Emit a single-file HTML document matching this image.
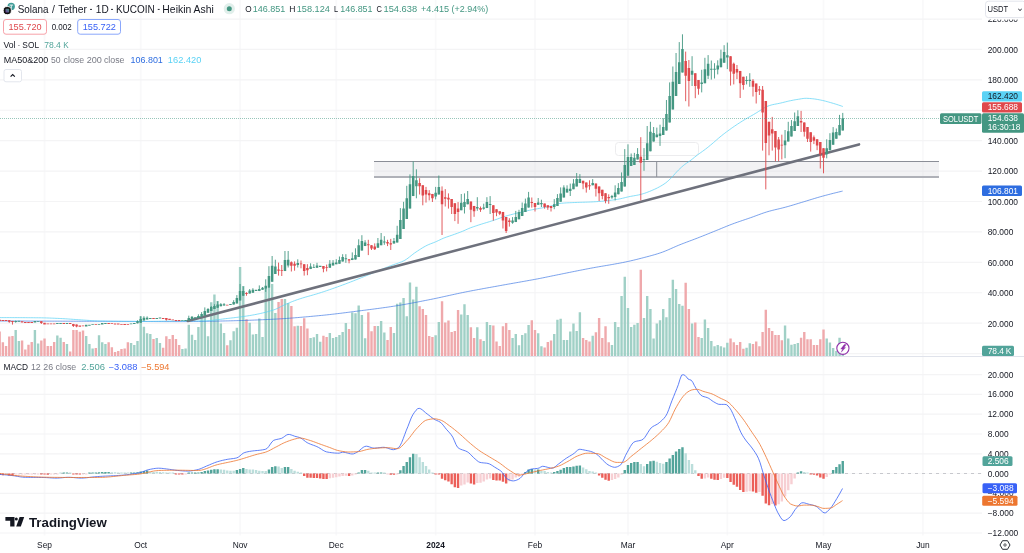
<!DOCTYPE html><html><head><meta charset="utf-8"><style>
html,body{margin:0;padding:0;width:1024px;height:553px;overflow:hidden;background:#fff}
svg{position:absolute;left:0;top:0;display:block;will-change:transform}
text{font-family:"Liberation Sans",sans-serif}
</style></head><body>
<svg width="1024" height="553" viewBox="0 0 1024 553">
<rect x="0" y="0" width="1024" height="553" fill="#fff"/>
<path d="M44.53 0V535.5 M140.70 0V535.5 M240.08 0V535.5 M336.25 0V535.5 M435.63 0V535.5 M535.00 0V535.5 M627.97 0V535.5 M727.34 0V535.5 M823.52 0V535.5 M922.89 0V535.5" stroke="#f9f9fa" stroke-width="1.8" fill="none"/>
<path d="M0 19.04H982 M0 49.45H982 M0 79.86H982 M0 110.27H982 M0 140.68H982 M0 171.09H982 M0 201.50H982 M0 231.91H982 M0 262.32H982 M0 292.73H982 M0 323.14H982 M0 353.55H982 M0 374.60H982 M0 394.40H982 M0 414.20H982 M0 434.00H982 M0 453.80H982 M0 493.40H982 M0 513.20H982 M0 533.00H982" stroke="#f4f4f5" stroke-width="1.2" fill="none"/>
<rect x="374" y="161.5" width="565" height="16" fill="#dcdce0" fill-opacity="0.36"/>
<path d="M374 161.5H939" stroke="#8b8e97" stroke-width="1.2"/>
<path d="M374 177H939" stroke="#afb1b8" stroke-width="1.8"/>
<path d="M656.7 161.5V177" stroke="#8b8e97" stroke-width="1"/>
<rect x="615.5" y="142.5" width="83" height="13" rx="3" fill="none" stroke="#ececee" stroke-width="1"/>
<path d="M14.48 330.0h2.4V356h-2.4ZM17.68 341.1h2.4V356h-2.4ZM33.71 330.0h2.4V356h-2.4ZM36.92 343.4h2.4V356h-2.4ZM56.15 335.4h2.4V356h-2.4ZM59.36 337.8h2.4V356h-2.4ZM65.77 344.0h2.4V356h-2.4ZM85.00 335.9h2.4V356h-2.4ZM88.21 344.0h2.4V356h-2.4ZM91.42 348.6h2.4V356h-2.4ZM97.83 335.2h2.4V356h-2.4ZM101.03 342.3h2.4V356h-2.4ZM104.24 344.1h2.4V356h-2.4ZM129.88 342.9h2.4V356h-2.4ZM133.09 345.1h2.4V356h-2.4ZM136.30 341.0h2.4V356h-2.4ZM139.50 316.3h2.4V356h-2.4ZM142.71 326.7h2.4V356h-2.4ZM145.91 333.3h2.4V356h-2.4ZM149.12 334.1h2.4V356h-2.4ZM155.53 338.0h2.4V356h-2.4ZM158.74 342.9h2.4V356h-2.4ZM181.18 349.0h2.4V356h-2.4ZM184.38 348.5h2.4V356h-2.4ZM187.59 324.8h2.4V356h-2.4ZM190.79 334.8h2.4V356h-2.4ZM194.00 340.0h2.4V356h-2.4ZM197.20 326.9h2.4V356h-2.4ZM200.41 317.6h2.4V356h-2.4ZM203.62 313.3h2.4V356h-2.4ZM206.82 336.3h2.4V356h-2.4ZM210.03 302.3h2.4V356h-2.4ZM213.23 294.6h2.4V356h-2.4ZM216.44 301.1h2.4V356h-2.4ZM219.64 323.5h2.4V356h-2.4ZM222.85 332.9h2.4V356h-2.4ZM229.26 340.2h2.4V356h-2.4ZM232.47 331.2h2.4V356h-2.4ZM235.67 327.8h2.4V356h-2.4ZM238.88 267.1h2.4V356h-2.4ZM242.08 286.1h2.4V356h-2.4ZM248.49 322.7h2.4V356h-2.4ZM251.70 334.6h2.4V356h-2.4ZM254.91 334.0h2.4V356h-2.4ZM258.11 318.6h2.4V356h-2.4ZM261.32 337.0h2.4V356h-2.4ZM264.52 288.0h2.4V356h-2.4ZM267.73 288.0h2.4V356h-2.4ZM270.93 284.1h2.4V356h-2.4ZM274.14 313.0h2.4V356h-2.4ZM283.76 299.0h2.4V356h-2.4ZM286.96 303.0h2.4V356h-2.4ZM296.58 325.7h2.4V356h-2.4ZM309.40 338.0h2.4V356h-2.4ZM312.61 337.3h2.4V356h-2.4ZM315.81 334.1h2.4V356h-2.4ZM319.02 341.7h2.4V356h-2.4ZM328.64 333.0h2.4V356h-2.4ZM331.84 338.0h2.4V356h-2.4ZM335.05 336.9h2.4V356h-2.4ZM338.25 335.0h2.4V356h-2.4ZM341.46 332.1h2.4V356h-2.4ZM344.67 322.9h2.4V356h-2.4ZM351.08 312.4h2.4V356h-2.4ZM354.28 313.3h2.4V356h-2.4ZM357.49 305.4h2.4V356h-2.4ZM360.69 314.9h2.4V356h-2.4ZM363.90 338.2h2.4V356h-2.4ZM376.72 326.0h2.4V356h-2.4ZM379.93 321.0h2.4V356h-2.4ZM383.13 332.4h2.4V356h-2.4ZM392.75 332.9h2.4V356h-2.4ZM395.96 303.8h2.4V356h-2.4ZM399.16 302.6h2.4V356h-2.4ZM402.37 297.9h2.4V356h-2.4ZM405.57 316.2h2.4V356h-2.4ZM408.78 282.4h2.4V356h-2.4ZM411.99 299.5h2.4V356h-2.4ZM415.19 286.7h2.4V356h-2.4ZM434.43 335.3h2.4V356h-2.4ZM437.63 322.0h2.4V356h-2.4ZM460.07 314.6h2.4V356h-2.4ZM463.28 304.3h2.4V356h-2.4ZM466.48 315.0h2.4V356h-2.4ZM476.10 327.2h2.4V356h-2.4ZM482.51 340.9h2.4V356h-2.4ZM485.72 322.0h2.4V356h-2.4ZM488.92 325.1h2.4V356h-2.4ZM511.36 338.1h2.4V356h-2.4ZM514.57 334.0h2.4V356h-2.4ZM517.77 345.2h2.4V356h-2.4ZM520.98 335.0h2.4V356h-2.4ZM524.18 333.3h2.4V356h-2.4ZM527.39 324.9h2.4V356h-2.4ZM537.01 333.3h2.4V356h-2.4ZM540.21 346.3h2.4V356h-2.4ZM553.04 334.0h2.4V356h-2.4ZM556.24 319.8h2.4V356h-2.4ZM559.45 318.8h2.4V356h-2.4ZM562.65 339.9h2.4V356h-2.4ZM565.86 339.9h2.4V356h-2.4ZM569.06 331.5h2.4V356h-2.4ZM572.27 323.4h2.4V356h-2.4ZM575.48 331.1h2.4V356h-2.4ZM578.68 312.3h2.4V356h-2.4ZM591.50 335.8h2.4V356h-2.4ZM610.74 345.0h2.4V356h-2.4ZM613.94 321.9h2.4V356h-2.4ZM617.15 327.1h2.4V356h-2.4ZM620.36 295.9h2.4V356h-2.4ZM623.56 276.8h2.4V356h-2.4ZM626.77 308.0h2.4V356h-2.4ZM629.97 327.1h2.4V356h-2.4ZM633.18 324.8h2.4V356h-2.4ZM636.38 323.1h2.4V356h-2.4ZM642.80 317.9h2.4V356h-2.4ZM646.00 295.9h2.4V356h-2.4ZM649.21 308.9h2.4V356h-2.4ZM652.41 338.4h2.4V356h-2.4ZM655.62 323.6h2.4V356h-2.4ZM658.82 320.2h2.4V356h-2.4ZM662.03 308.9h2.4V356h-2.4ZM665.24 317.2h2.4V356h-2.4ZM668.44 298.1h2.4V356h-2.4ZM671.65 279.7h2.4V356h-2.4ZM674.85 288.9h2.4V356h-2.4ZM678.06 304.0h2.4V356h-2.4ZM681.26 305.8h2.4V356h-2.4ZM690.88 323.6h2.4V356h-2.4ZM700.50 338.0h2.4V356h-2.4ZM703.70 319.6h2.4V356h-2.4ZM706.91 328.0h2.4V356h-2.4ZM710.12 341.0h2.4V356h-2.4ZM713.32 346.2h2.4V356h-2.4ZM716.53 345.0h2.4V356h-2.4ZM719.73 346.2h2.4V356h-2.4ZM722.94 347.4h2.4V356h-2.4ZM726.14 342.7h2.4V356h-2.4ZM745.38 347.8h2.4V356h-2.4ZM748.58 343.3h2.4V356h-2.4ZM783.85 325.4h2.4V356h-2.4ZM787.05 338.6h2.4V356h-2.4ZM790.26 344.8h2.4V356h-2.4ZM793.46 344.0h2.4V356h-2.4ZM796.67 343.1h2.4V356h-2.4ZM825.52 338.4h2.4V356h-2.4ZM828.73 342.5h2.4V356h-2.4ZM831.93 348.1h2.4V356h-2.4ZM835.14 350.9h2.4V356h-2.4ZM838.34 337.7h2.4V356h-2.4ZM841.55 350.0h2.4V356h-2.4Z" fill="#a0d0c6"/>
<path d="M-1.55 331.5h2.4V356h-2.4ZM1.66 342.2h2.4V356h-2.4ZM4.86 346.1h2.4V356h-2.4ZM8.07 336.6h2.4V356h-2.4ZM11.27 335.9h2.4V356h-2.4ZM20.89 340.5h2.4V356h-2.4ZM24.10 349.6h2.4V356h-2.4ZM27.30 344.7h2.4V356h-2.4ZM30.51 342.0h2.4V356h-2.4ZM40.12 340.5h2.4V356h-2.4ZM43.33 338.5h2.4V356h-2.4ZM46.54 346.1h2.4V356h-2.4ZM49.74 346.1h2.4V356h-2.4ZM52.95 342.0h2.4V356h-2.4ZM62.56 342.0h2.4V356h-2.4ZM68.98 351.5h2.4V356h-2.4ZM72.18 330.0h2.4V356h-2.4ZM75.39 330.0h2.4V356h-2.4ZM78.59 331.7h2.4V356h-2.4ZM81.80 330.5h2.4V356h-2.4ZM94.62 348.1h2.4V356h-2.4ZM107.44 342.3h2.4V356h-2.4ZM110.65 347.2h2.4V356h-2.4ZM113.86 352.1h2.4V356h-2.4ZM117.06 351.1h2.4V356h-2.4ZM120.27 349.0h2.4V356h-2.4ZM123.47 348.5h2.4V356h-2.4ZM126.68 342.3h2.4V356h-2.4ZM152.32 339.0h2.4V356h-2.4ZM161.94 347.8h2.4V356h-2.4ZM165.15 336.3h2.4V356h-2.4ZM168.35 339.0h2.4V356h-2.4ZM171.56 335.1h2.4V356h-2.4ZM174.76 339.0h2.4V356h-2.4ZM177.97 344.9h2.4V356h-2.4ZM226.05 345.3h2.4V356h-2.4ZM245.29 319.3h2.4V356h-2.4ZM277.35 302.0h2.4V356h-2.4ZM280.55 299.0h2.4V356h-2.4ZM290.17 306.0h2.4V356h-2.4ZM293.37 326.3h2.4V356h-2.4ZM299.79 326.0h2.4V356h-2.4ZM302.99 318.2h2.4V356h-2.4ZM306.20 328.5h2.4V356h-2.4ZM322.23 335.8h2.4V356h-2.4ZM325.43 336.9h2.4V356h-2.4ZM347.87 329.1h2.4V356h-2.4ZM367.11 312.2h2.4V356h-2.4ZM370.31 331.3h2.4V356h-2.4ZM373.52 326.0h2.4V356h-2.4ZM386.34 340.1h2.4V356h-2.4ZM389.55 327.0h2.4V356h-2.4ZM418.40 306.3h2.4V356h-2.4ZM421.60 309.0h2.4V356h-2.4ZM424.81 315.0h2.4V356h-2.4ZM428.01 336.0h2.4V356h-2.4ZM431.22 337.1h2.4V356h-2.4ZM440.84 301.2h2.4V356h-2.4ZM444.04 322.6h2.4V356h-2.4ZM447.25 320.6h2.4V356h-2.4ZM450.45 331.9h2.4V356h-2.4ZM453.66 331.1h2.4V356h-2.4ZM456.87 309.9h2.4V356h-2.4ZM469.69 327.2h2.4V356h-2.4ZM472.89 338.1h2.4V356h-2.4ZM479.31 339.2h2.4V356h-2.4ZM492.13 325.4h2.4V356h-2.4ZM495.33 341.4h2.4V356h-2.4ZM498.54 346.0h2.4V356h-2.4ZM501.75 326.3h2.4V356h-2.4ZM504.95 323.0h2.4V356h-2.4ZM508.16 330.1h2.4V356h-2.4ZM530.60 320.2h2.4V356h-2.4ZM533.80 330.1h2.4V356h-2.4ZM543.42 347.4h2.4V356h-2.4ZM546.62 342.1h2.4V356h-2.4ZM549.83 340.6h2.4V356h-2.4ZM581.89 338.0h2.4V356h-2.4ZM585.09 340.1h2.4V356h-2.4ZM588.30 341.5h2.4V356h-2.4ZM594.71 332.3h2.4V356h-2.4ZM597.92 317.9h2.4V356h-2.4ZM601.12 338.0h2.4V356h-2.4ZM604.33 326.2h2.4V356h-2.4ZM607.53 342.2h2.4V356h-2.4ZM639.59 269.8h2.4V356h-2.4ZM684.47 282.8h2.4V356h-2.4ZM687.68 308.9h2.4V356h-2.4ZM694.09 322.4h2.4V356h-2.4ZM697.29 337.0h2.4V356h-2.4ZM729.35 338.5h2.4V356h-2.4ZM732.56 342.2h2.4V356h-2.4ZM735.76 345.1h2.4V356h-2.4ZM738.97 342.0h2.4V356h-2.4ZM742.17 348.7h2.4V356h-2.4ZM751.79 344.0h2.4V356h-2.4ZM755.00 341.4h2.4V356h-2.4ZM758.20 346.2h2.4V356h-2.4ZM761.41 332.1h2.4V356h-2.4ZM764.61 309.7h2.4V356h-2.4ZM767.82 328.0h2.4V356h-2.4ZM771.02 331.0h2.4V356h-2.4ZM774.23 335.0h2.4V356h-2.4ZM777.44 335.0h2.4V356h-2.4ZM780.64 340.3h2.4V356h-2.4ZM799.88 337.7h2.4V356h-2.4ZM803.08 332.1h2.4V356h-2.4ZM806.29 339.2h2.4V356h-2.4ZM809.49 339.2h2.4V356h-2.4ZM812.70 345.1h2.4V356h-2.4ZM815.90 345.1h2.4V356h-2.4ZM819.11 339.2h2.4V356h-2.4ZM822.32 329.6h2.4V356h-2.4Z" fill="#efa9ac"/>
<path d="M0.0 321.00 L1.6 321.00 L3.2 321.01 L4.8 321.01 L6.4 321.02 L8.0 321.02 L9.6 321.03 L11.2 321.03 L12.8 321.03 L14.4 321.04 L16.0 321.04 L17.6 321.05 L19.2 321.05 L20.8 321.06 L22.4 321.06 L24.0 321.06 L25.6 321.07 L27.2 321.07 L28.8 321.08 L30.4 321.08 L32.0 321.09 L33.6 321.09 L35.2 321.10 L36.8 321.10 L38.4 321.11 L40.0 321.11 L41.6 321.12 L43.2 321.12 L44.8 321.12 L46.4 321.13 L48.0 321.13 L49.6 321.14 L51.2 321.14 L52.8 321.15 L54.4 321.15 L56.0 321.16 L57.6 321.16 L59.2 321.17 L60.8 321.17 L62.4 321.18 L64.0 321.18 L65.6 321.19 L67.2 321.19 L68.8 321.20 L70.4 321.20 L72.0 321.21 L73.6 321.21 L75.2 321.22 L76.8 321.22 L78.4 321.23 L80.0 321.23 L81.6 321.24 L83.2 321.24 L84.8 321.25 L86.4 321.26 L88.0 321.26 L89.6 321.27 L91.2 321.27 L92.8 321.28 L94.4 321.28 L96.0 321.29 L97.6 321.29 L99.2 321.30 L100.8 321.30 L102.4 321.31 L104.0 321.31 L105.6 321.32 L107.2 321.33 L108.8 321.33 L110.4 321.34 L112.0 321.35 L113.6 321.35 L115.2 321.36 L116.8 321.37 L118.4 321.38 L120.0 321.38 L121.6 321.39 L123.2 321.40 L124.8 321.41 L126.4 321.42 L128.0 321.42 L129.6 321.43 L131.2 321.44 L132.8 321.45 L134.4 321.46 L136.0 321.46 L137.6 321.47 L139.2 321.48 L140.8 321.49 L142.4 321.49 L144.0 321.50 L145.6 321.51 L147.2 321.52 L148.8 321.52 L150.4 321.53 L152.0 321.54 L153.6 321.54 L155.2 321.55 L156.8 321.55 L158.4 321.56 L160.0 321.57 L161.6 321.57 L163.2 321.58 L164.8 321.58 L166.4 321.58 L168.0 321.59 L169.6 321.59 L171.2 321.59 L172.8 321.60 L174.4 321.60 L176.0 321.60 L177.6 321.60 L179.2 321.60 L180.8 321.60 L182.4 321.60 L184.0 321.59 L185.6 321.58 L187.2 321.58 L188.8 321.56 L190.4 321.55 L192.0 321.53 L193.6 321.52 L195.2 321.50 L196.8 321.48 L198.4 321.45 L200.0 321.43 L201.6 321.41 L203.2 321.38 L204.8 321.35 L206.4 321.32 L208.0 321.29 L209.6 321.26 L211.2 321.23 L212.8 321.20 L214.4 321.17 L216.0 321.13 L217.6 321.10 L219.2 321.07 L220.8 321.03 L222.4 321.00 L224.0 320.96 L225.6 320.93 L227.2 320.90 L228.8 320.86 L230.4 320.82 L232.0 320.79 L233.6 320.74 L235.2 320.70 L236.8 320.66 L238.4 320.61 L240.0 320.57 L241.6 320.52 L243.2 320.46 L244.8 320.41 L246.4 320.36 L248.0 320.30 L249.6 320.24 L251.2 320.19 L252.8 320.13 L254.4 320.06 L256.0 320.00 L257.6 319.93 L259.2 319.87 L260.8 319.80 L262.4 319.73 L264.0 319.66 L265.6 319.59 L267.2 319.51 L268.8 319.44 L270.4 319.36 L272.0 319.28 L273.6 319.20 L275.2 319.12 L276.8 319.04 L278.4 318.95 L280.0 318.85 L281.6 318.75 L283.2 318.65 L284.8 318.55 L286.4 318.44 L288.0 318.32 L289.6 318.21 L291.2 318.09 L292.8 317.97 L294.4 317.84 L296.0 317.71 L297.6 317.58 L299.2 317.45 L300.8 317.31 L302.4 317.17 L304.0 317.04 L305.6 316.89 L307.2 316.75 L308.8 316.61 L310.4 316.46 L312.0 316.31 L313.6 316.16 L315.2 316.01 L316.8 315.86 L318.4 315.71 L320.0 315.56 L321.6 315.40 L323.2 315.25 L324.8 315.08 L326.4 314.91 L328.0 314.74 L329.6 314.57 L331.2 314.39 L332.8 314.20 L334.4 314.02 L336.0 313.83 L337.6 313.64 L339.2 313.44 L340.8 313.25 L342.4 313.05 L344.0 312.85 L345.6 312.65 L347.2 312.44 L348.8 312.24 L350.4 312.03 L352.0 311.83 L353.6 311.62 L355.2 311.42 L356.8 311.21 L358.4 311.00 L360.0 310.80 L361.6 310.60 L363.2 310.39 L364.8 310.19 L366.4 309.98 L368.0 309.78 L369.6 309.57 L371.2 309.37 L372.8 309.16 L374.4 308.95 L376.0 308.74 L377.6 308.52 L379.2 308.31 L380.8 308.09 L382.4 307.87 L384.0 307.65 L385.6 307.42 L387.2 307.19 L388.8 306.96 L390.4 306.72 L392.0 306.48 L393.6 306.23 L395.2 305.98 L396.8 305.73 L398.4 305.47 L400.0 305.20 L401.6 304.93 L403.2 304.66 L404.8 304.38 L406.4 304.09 L408.0 303.80 L409.6 303.51 L411.2 303.21 L412.8 302.91 L414.4 302.61 L416.0 302.30 L417.6 302.00 L419.2 301.69 L420.8 301.37 L422.4 301.06 L424.0 300.75 L425.6 300.43 L427.2 300.11 L428.8 299.80 L430.4 299.48 L432.0 299.16 L433.6 298.83 L435.2 298.50 L436.8 298.16 L438.4 297.82 L440.0 297.48 L441.6 297.13 L443.2 296.78 L444.8 296.42 L446.4 296.07 L448.0 295.72 L449.6 295.36 L451.2 295.01 L452.8 294.66 L454.4 294.31 L456.0 293.96 L457.6 293.61 L459.2 293.27 L460.8 292.94 L462.4 292.61 L464.0 292.28 L465.6 291.96 L467.2 291.65 L468.8 291.33 L470.4 291.03 L472.0 290.72 L473.6 290.42 L475.2 290.12 L476.8 289.82 L478.4 289.52 L480.0 289.23 L481.6 288.94 L483.2 288.64 L484.8 288.35 L486.4 288.06 L488.0 287.78 L489.6 287.49 L491.2 287.20 L492.8 286.91 L494.4 286.62 L496.0 286.33 L497.6 286.05 L499.2 285.75 L500.8 285.46 L502.4 285.17 L504.0 284.88 L505.6 284.60 L507.2 284.31 L508.8 284.03 L510.4 283.75 L512.0 283.46 L513.6 283.18 L515.2 282.90 L516.8 282.62 L518.4 282.34 L520.0 282.06 L521.6 281.77 L523.2 281.49 L524.8 281.20 L526.4 280.92 L528.0 280.63 L529.6 280.34 L531.2 280.05 L532.8 279.76 L534.4 279.46 L536.0 279.16 L537.6 278.86 L539.2 278.55 L540.8 278.24 L542.4 277.93 L544.0 277.61 L545.6 277.28 L547.2 276.95 L548.8 276.62 L550.4 276.29 L552.0 275.95 L553.6 275.63 L555.2 275.30 L556.8 274.98 L558.4 274.65 L560.0 274.33 L561.6 274.00 L563.2 273.68 L564.8 273.35 L566.4 273.03 L568.0 272.70 L569.6 272.38 L571.2 272.06 L572.8 271.73 L574.4 271.41 L576.0 271.09 L577.6 270.77 L579.2 270.45 L580.8 270.14 L582.4 269.82 L584.0 269.51 L585.6 269.20 L587.2 268.89 L588.8 268.58 L590.4 268.28 L592.0 267.98 L593.6 267.69 L595.2 267.40 L596.8 267.12 L598.4 266.84 L600.0 266.57 L601.6 266.29 L603.2 266.02 L604.8 265.75 L606.4 265.48 L608.0 265.21 L609.6 264.94 L611.2 264.66 L612.8 264.38 L614.4 264.10 L616.0 263.81 L617.6 263.52 L619.2 263.22 L620.8 262.92 L622.4 262.61 L624.0 262.29 L625.6 261.96 L627.2 261.62 L628.8 261.27 L630.4 260.91 L632.0 260.54 L633.6 260.16 L635.2 259.77 L636.8 259.38 L638.4 258.98 L640.0 258.57 L641.6 258.16 L643.2 257.75 L644.8 257.33 L646.4 256.92 L648.0 256.50 L649.6 256.07 L651.2 255.64 L652.8 255.19 L654.4 254.73 L656.0 254.26 L657.6 253.77 L659.2 253.26 L660.8 252.73 L662.4 252.16 L664.0 251.56 L665.6 250.92 L667.2 250.25 L668.8 249.56 L670.4 248.85 L672.0 248.14 L673.6 247.43 L675.2 246.72 L676.8 246.03 L678.4 245.35 L680.0 244.70 L681.6 244.07 L683.2 243.45 L684.8 242.84 L686.4 242.23 L688.0 241.63 L689.6 241.03 L691.2 240.44 L692.8 239.83 L694.4 239.23 L696.0 238.62 L697.6 238.00 L699.2 237.37 L700.8 236.74 L702.4 236.11 L704.0 235.47 L705.6 234.83 L707.2 234.18 L708.8 233.54 L710.4 232.89 L712.0 232.25 L713.6 231.60 L715.2 230.96 L716.8 230.31 L718.4 229.66 L720.0 229.00 L721.6 228.34 L723.2 227.67 L724.8 227.02 L726.4 226.36 L728.0 225.72 L729.6 225.09 L731.2 224.47 L732.8 223.86 L734.4 223.27 L736.0 222.70 L737.6 222.14 L739.2 221.58 L740.8 221.04 L742.4 220.49 L744.0 219.95 L745.6 219.41 L747.2 218.87 L748.8 218.32 L750.4 217.77 L752.0 217.20 L753.6 216.61 L755.2 216.02 L756.8 215.43 L758.4 214.83 L760.0 214.25 L761.6 213.67 L763.2 213.11 L764.8 212.57 L766.4 212.05 L768.0 211.57 L769.6 211.12 L771.2 210.69 L772.8 210.28 L774.4 209.89 L776.0 209.51 L777.6 209.13 L779.2 208.75 L780.8 208.37 L782.4 207.98 L784.0 207.57 L785.6 207.15 L787.2 206.70 L788.8 206.25 L790.4 205.79 L792.0 205.32 L793.6 204.84 L795.2 204.36 L796.8 203.87 L798.4 203.39 L800.0 202.90 L801.6 202.42 L803.2 201.94 L804.8 201.46 L806.4 200.97 L808.0 200.48 L809.6 199.98 L811.2 199.49 L812.8 199.00 L814.4 198.51 L816.0 198.03 L817.6 197.55 L819.2 197.09 L820.8 196.64 L822.4 196.20 L824.0 195.77 L825.6 195.34 L827.2 194.91 L828.8 194.49 L830.4 194.08 L832.0 193.67 L833.6 193.26 L835.2 192.86 L836.8 192.47 L838.4 192.08 L840.0 191.70 L841.6 191.33 L842.6 191.10" stroke="#2e6de0" stroke-width="0.9" fill="none" opacity="0.7"/>
<path d="M0.0 317.60 L1.6 317.60 L3.2 317.60 L4.8 317.60 L6.4 317.61 L8.0 317.61 L9.6 317.61 L11.2 317.62 L12.8 317.62 L14.4 317.63 L16.0 317.63 L17.6 317.64 L19.2 317.65 L20.8 317.66 L22.4 317.67 L24.0 317.67 L25.6 317.68 L27.2 317.70 L28.8 317.71 L30.4 317.72 L32.0 317.73 L33.6 317.74 L35.2 317.76 L36.8 317.77 L38.4 317.78 L40.0 317.80 L41.6 317.82 L43.2 317.85 L44.8 317.89 L46.4 317.93 L48.0 317.99 L49.6 318.04 L51.2 318.11 L52.8 318.17 L54.4 318.24 L56.0 318.32 L57.6 318.39 L59.2 318.46 L60.8 318.54 L62.4 318.62 L64.0 318.71 L65.6 318.81 L67.2 318.91 L68.8 319.02 L70.4 319.14 L72.0 319.25 L73.6 319.36 L75.2 319.48 L76.8 319.59 L78.4 319.70 L80.0 319.80 L81.6 319.90 L83.2 320.02 L84.8 320.13 L86.4 320.25 L88.0 320.37 L89.6 320.48 L91.2 320.59 L92.8 320.69 L94.4 320.79 L96.0 320.87 L97.6 320.93 L99.2 320.98 L100.8 321.01 L102.4 321.04 L104.0 321.07 L105.6 321.10 L107.2 321.12 L108.8 321.15 L110.4 321.17 L112.0 321.20 L113.6 321.22 L115.2 321.24 L116.8 321.26 L118.4 321.28 L120.0 321.29 L121.6 321.31 L123.2 321.32 L124.8 321.34 L126.4 321.35 L128.0 321.36 L129.6 321.37 L131.2 321.38 L132.8 321.39 L134.4 321.39 L136.0 321.40 L137.6 321.40 L139.2 321.40 L140.8 321.40 L142.4 321.40 L144.0 321.39 L145.6 321.38 L147.2 321.37 L148.8 321.36 L150.4 321.34 L152.0 321.33 L153.6 321.31 L155.2 321.29 L156.8 321.27 L158.4 321.25 L160.0 321.23 L161.6 321.21 L163.2 321.19 L164.8 321.16 L166.4 321.14 L168.0 321.12 L169.6 321.10 L171.2 321.08 L172.8 321.06 L174.4 321.05 L176.0 321.03 L177.6 321.02 L179.2 321.00 L180.8 321.00 L182.4 320.99 L184.0 320.98 L185.6 320.97 L187.2 320.97 L188.8 320.96 L190.4 320.96 L192.0 320.96 L193.6 320.95 L195.2 320.94 L196.8 320.94 L198.4 320.93 L200.0 320.92 L201.6 320.91 L203.2 320.90 L204.8 320.86 L206.4 320.80 L208.0 320.70 L209.6 320.58 L211.2 320.43 L212.8 320.27 L214.4 320.09 L216.0 319.89 L217.6 319.69 L219.2 319.48 L220.8 319.27 L222.4 319.07 L224.0 318.86 L225.6 318.66 L227.2 318.48 L228.8 318.30 L230.4 318.11 L232.0 317.93 L233.6 317.75 L235.2 317.56 L236.8 317.37 L238.4 317.17 L240.0 316.97 L241.6 316.76 L243.2 316.54 L244.8 316.31 L246.4 316.07 L248.0 315.83 L249.6 315.57 L251.2 315.30 L252.8 315.01 L254.4 314.72 L256.0 314.41 L257.6 314.09 L259.2 313.76 L260.8 313.40 L262.4 313.04 L264.0 312.65 L265.6 312.25 L267.2 311.83 L268.8 311.39 L270.4 310.92 L272.0 310.44 L273.6 309.93 L275.2 309.37 L276.8 308.69 L278.4 307.93 L280.0 307.12 L281.6 306.29 L283.2 305.48 L284.8 304.71 L286.4 304.01 L288.0 303.33 L289.6 302.66 L291.2 302.00 L292.8 301.36 L294.4 300.75 L296.0 300.16 L297.6 299.59 L299.2 299.06 L300.8 298.54 L302.4 298.04 L304.0 297.56 L305.6 297.09 L307.2 296.63 L308.8 296.18 L310.4 295.72 L312.0 295.27 L313.6 294.81 L315.2 294.35 L316.8 293.88 L318.4 293.39 L320.0 292.89 L321.6 292.37 L323.2 291.85 L324.8 291.32 L326.4 290.78 L328.0 290.23 L329.6 289.68 L331.2 289.13 L332.8 288.56 L334.4 288.00 L336.0 287.43 L337.6 286.85 L339.2 286.27 L340.8 285.68 L342.4 285.09 L344.0 284.50 L345.6 283.90 L347.2 283.29 L348.8 282.68 L350.4 282.06 L352.0 281.43 L353.6 280.80 L355.2 280.16 L356.8 279.52 L358.4 278.87 L360.0 278.23 L361.6 277.58 L363.2 276.94 L364.8 276.29 L366.4 275.64 L368.0 275.00 L369.6 274.35 L371.2 273.70 L372.8 273.04 L374.4 272.38 L376.0 271.71 L377.6 271.05 L379.2 270.39 L380.8 269.72 L382.4 269.06 L384.0 268.41 L385.6 267.75 L387.2 267.11 L388.8 266.47 L390.4 265.83 L392.0 265.22 L393.6 264.65 L395.2 264.10 L396.8 263.56 L398.4 263.01 L400.0 262.43 L401.6 261.79 L403.2 261.09 L404.8 260.27 L406.4 259.28 L408.0 258.13 L409.6 256.89 L411.2 255.61 L412.8 254.34 L414.4 253.13 L416.0 252.04 L417.6 250.97 L419.2 249.92 L420.8 248.89 L422.4 247.89 L424.0 246.94 L425.6 246.06 L427.2 245.25 L428.8 244.54 L430.4 243.89 L432.0 243.28 L433.6 242.67 L435.2 242.03 L436.8 241.32 L438.4 240.57 L440.0 239.81 L441.6 239.05 L443.2 238.34 L444.8 237.68 L446.4 237.10 L448.0 236.55 L449.6 236.02 L451.2 235.48 L452.8 234.91 L454.4 234.34 L456.0 233.77 L457.6 233.18 L459.2 232.59 L460.8 231.97 L462.4 231.34 L464.0 230.66 L465.6 229.93 L467.2 229.20 L468.8 228.49 L470.4 227.85 L472.0 227.26 L473.6 226.70 L475.2 226.16 L476.8 225.63 L478.4 225.10 L480.0 224.58 L481.6 224.08 L483.2 223.58 L484.8 223.09 L486.4 222.61 L488.0 222.12 L489.6 221.63 L491.2 221.12 L492.8 220.61 L494.4 220.08 L496.0 219.52 L497.6 218.94 L499.2 218.35 L500.8 217.77 L502.4 217.20 L504.0 216.67 L505.6 216.18 L507.2 215.72 L508.8 215.27 L510.4 214.84 L512.0 214.41 L513.6 214.00 L515.2 213.60 L516.8 213.21 L518.4 212.82 L520.0 212.45 L521.6 212.08 L523.2 211.71 L524.8 211.35 L526.4 210.99 L528.0 210.63 L529.6 210.28 L531.2 209.95 L532.8 209.63 L534.4 209.32 L536.0 209.02 L537.6 208.72 L539.2 208.43 L540.8 208.14 L542.4 207.84 L544.0 207.53 L545.6 207.22 L547.2 206.89 L548.8 206.55 L550.4 206.19 L552.0 205.80 L553.6 205.32 L555.2 204.75 L556.8 204.18 L558.4 203.70 L560.0 203.40 L561.6 203.24 L563.2 203.11 L564.8 202.99 L566.4 202.89 L568.0 202.80 L569.6 202.73 L571.2 202.66 L572.8 202.59 L574.4 202.53 L576.0 202.46 L577.6 202.40 L579.2 202.35 L580.8 202.30 L582.4 202.25 L584.0 202.21 L585.6 202.16 L587.2 202.11 L588.8 202.05 L590.4 201.98 L592.0 201.91 L593.6 201.82 L595.2 201.73 L596.8 201.63 L598.4 201.52 L600.0 201.40 L601.6 201.27 L603.2 201.13 L604.8 200.97 L606.4 200.81 L608.0 200.63 L609.6 200.43 L611.2 200.23 L612.8 200.02 L614.4 199.79 L616.0 199.55 L617.6 199.30 L619.2 199.01 L620.8 198.66 L622.4 198.29 L624.0 197.91 L625.6 197.51 L627.2 197.12 L628.8 196.76 L630.4 196.42 L632.0 196.12 L633.6 195.84 L635.2 195.57 L636.8 195.28 L638.4 194.96 L640.0 194.60 L641.6 194.18 L643.2 193.71 L644.8 193.19 L646.4 192.63 L648.0 192.03 L649.6 191.40 L651.2 190.74 L652.8 190.06 L654.4 189.35 L656.0 188.60 L657.6 187.81 L659.2 186.97 L660.8 186.07 L662.4 185.11 L664.0 184.09 L665.6 182.99 L667.2 181.70 L668.8 180.25 L670.4 178.69 L672.0 177.10 L673.6 175.37 L675.2 173.54 L676.8 171.75 L678.4 170.11 L680.0 168.56 L681.6 167.08 L683.2 165.69 L684.8 164.41 L686.4 163.27 L688.0 162.20 L689.6 161.12 L691.2 159.95 L692.8 158.68 L694.4 157.37 L696.0 156.08 L697.6 154.85 L699.2 153.69 L700.8 152.56 L702.4 151.43 L704.0 150.27 L705.6 149.06 L707.2 147.81 L708.8 146.52 L710.4 145.21 L712.0 143.88 L713.6 142.51 L715.2 141.12 L716.8 139.72 L718.4 138.34 L720.0 136.98 L721.6 135.68 L723.2 134.42 L724.8 133.19 L726.4 131.98 L728.0 130.79 L729.6 129.63 L731.2 128.48 L732.8 127.36 L734.4 126.26 L736.0 125.17 L737.6 124.10 L739.2 123.05 L740.8 122.03 L742.4 121.02 L744.0 120.03 L745.6 119.08 L747.2 118.16 L748.8 117.25 L750.4 116.35 L752.0 115.44 L753.6 114.52 L755.2 113.56 L756.8 112.58 L758.4 111.59 L760.0 110.60 L761.6 109.58 L763.2 108.52 L764.8 107.55 L766.4 106.78 L768.0 106.10 L769.6 105.51 L771.2 105.03 L772.8 104.64 L774.4 104.31 L776.0 104.00 L777.6 103.69 L779.2 103.37 L780.8 103.02 L782.4 102.63 L784.0 102.23 L785.6 101.83 L787.2 101.43 L788.8 101.06 L790.4 100.72 L792.0 100.40 L793.6 100.09 L795.2 99.79 L796.8 99.52 L798.4 99.27 L800.0 99.00 L801.6 98.73 L803.2 98.50 L804.8 98.34 L806.4 98.30 L808.0 98.36 L809.6 98.47 L811.2 98.62 L812.8 98.78 L814.4 98.96 L816.0 99.19 L817.6 99.47 L819.2 99.77 L820.8 100.08 L822.4 100.42 L824.0 100.80 L825.6 101.21 L827.2 101.64 L828.8 102.08 L830.4 102.54 L832.0 103.00 L833.6 103.47 L835.2 103.96 L836.8 104.46 L838.4 104.99 L840.0 105.52 L841.6 106.08 L842.8 106.50" stroke="#5ad2f5" stroke-width="0.9" fill="none" opacity="0.8"/>
<path d="M187.8 321.0L859 144.4" stroke="#6e717c" stroke-width="2.6" stroke-linecap="round"/>
<path d="M15.68 320.6V322.7M137.50 320.3V323.4M140.70 316.2V322.8M143.91 316.2V320.6M147.11 316.4V319.4M188.79 315.7V320.4M191.99 316.1V319.3M198.40 314.3V317.9M201.61 312.1V316.8M204.82 307.4V315.4M208.02 308.1V312.8M211.23 306.0V311.0M214.43 304.2V308.9M217.64 301.3V307.8M220.84 303.1V306.3M224.05 303.1V305.6M233.67 300.2V304.5M236.87 295.1V303.4M240.08 284.0V300.5M243.28 286.4V295.8M249.69 289.0V293.6M252.90 288.2V292.7M259.31 285.4V291.1M262.52 287.0V289.8M265.72 279.3V291.9M268.93 266.2V287.8M272.13 256.0V281.7M275.34 259.7V274.0M284.96 251.0V271.1M288.16 251.0V267.5M297.78 259.3V267.5M310.60 263.3V269.1M313.81 264.2V267.8M317.01 262.8V267.8M329.84 260.1V267.8M333.04 260.1V265.5M336.25 259.2V264.2M339.45 256.5V263.7M342.66 254.2V261.5M345.87 254.2V262.8M352.28 252.4V260.1M355.48 248.3V259.6M358.69 239.3V256.9M361.89 235.2V250.6M365.10 240.2V246.1M377.92 238.0V247.7M381.13 233.0V245.2M384.33 236.2V244.8M393.95 238.0V243.6M397.16 225.8V242.5M400.36 208.1V238.9M403.57 201.8V228.9M406.77 185.8V219.0M409.98 174.4V208.6M413.19 161.4V196.1M416.39 169.3V198.3M435.63 186.9V199.4M438.83 175.5V194.5M461.27 194.0V210.2M464.48 193.4V213.5M467.68 191.0V204.3M477.30 197.2V210.8M483.71 203.7V209.7M486.92 197.2V208.1M490.12 196.1V214.0M512.56 217.1V223.8M515.77 210.9V222.1M518.97 209.8V219.3M522.18 202.5V216.0M525.38 198.6V212.0M528.59 191.9V207.6M538.21 198.0V204.8M541.41 199.7V207.0M554.24 199.1V209.2M557.44 194.1V205.9M560.65 187.4V201.8M563.85 185.3V197.5M567.06 185.3V192.6M570.26 183.6V196.0M573.47 179.1V189.2M576.68 173.0V186.4M579.88 174.1V183.1M592.70 179.1V185.3M611.94 194.9V198.8M615.14 185.3V200.4M618.35 183.1V194.3M621.56 172.4V191.5M624.76 149.1V186.6M627.97 144.3V175.7M631.17 153.5V166.0M634.38 152.9V164.9M637.58 148.1V159.5M644.00 148.1V170.8M647.20 126.0V160.0M650.41 121.8V151.3M653.61 127.0V141.6M656.82 127.6V137.2M660.02 124.7V145.9M663.23 118.2V135.0M666.44 100.0V130.6M669.64 82.4V122.4M672.85 66.5V109.4M676.05 53.0V95.9M679.26 42.1V83.9M682.46 34.3V72.5M692.08 56.2V86.0M701.70 69.8V92.4M704.90 57.8V83.3M708.11 55.1V79.0M711.32 60.5V79.6M714.52 63.2V78.5M717.73 60.3V74.4M720.93 49.7V67.2M724.14 45.2V62.7M727.34 42.6V69.1M746.58 76.2V84.4M749.78 73.2V86.8M785.05 130.0V158.2M788.25 121.8V141.5M791.46 120.1V136.4M794.66 112.5V131.0M797.87 110.3V126.0M826.72 139.3V158.3M829.93 133.2V150.2M833.13 127.1V144.8M836.34 128.5V138.7M839.54 114.9V135.3M842.75 112.9V130.5" stroke="#449782" stroke-width="0.9" fill="none"/>
<path d="M14.43 321.0h2.5v0.9h-2.5ZM17.63 320.8h2.5v0.9h-2.5ZM33.66 321.0h2.5v1.6h-2.5ZM36.87 320.9h2.5v0.9h-2.5ZM56.10 323.0h2.5v1.0h-2.5ZM59.31 323.0h2.5v0.9h-2.5ZM65.72 323.1h2.5v0.9h-2.5ZM84.95 324.8h2.5v1.6h-2.5ZM88.16 324.8h2.5v0.9h-2.5ZM91.37 324.2h2.5v0.9h-2.5ZM97.78 323.9h2.5v0.9h-2.5ZM100.98 322.9h2.5v1.6h-2.5ZM104.19 322.9h2.5v1.0h-2.5ZM129.83 323.4h2.5v0.9h-2.5ZM133.04 323.1h2.5v0.9h-2.5ZM136.25 321.2h2.5v2.1h-2.5ZM139.45 319.0h2.5v3.8h-2.5ZM142.66 317.8h2.5v2.8h-2.5ZM145.86 317.8h2.5v1.6h-2.5ZM149.07 318.1h2.5v0.9h-2.5ZM155.48 318.1h2.5v0.9h-2.5ZM158.69 317.5h2.5v0.9h-2.5ZM181.13 319.9h2.5v0.9h-2.5ZM184.33 320.0h2.5v0.9h-2.5ZM187.54 317.9h2.5v2.5h-2.5ZM190.74 316.8h2.5v2.5h-2.5ZM193.95 317.2h2.5v1.4h-2.5ZM197.15 316.1h2.5v1.8h-2.5ZM200.36 313.9h2.5v2.9h-2.5ZM203.57 311.0h2.5v4.4h-2.5ZM206.77 308.9h2.5v3.9h-2.5ZM209.98 307.0h2.5v4.0h-2.5ZM213.18 306.0h2.5v2.9h-2.5ZM216.39 304.5h2.5v3.3h-2.5ZM219.59 304.2h2.5v2.1h-2.5ZM222.80 304.2h2.5v1.4h-2.5ZM229.21 304.0h2.5v0.9h-2.5ZM232.42 302.0h2.5v2.5h-2.5ZM235.62 298.0h2.5v5.4h-2.5ZM238.83 291.1h2.5v9.4h-2.5ZM242.03 291.1h2.5v4.7h-2.5ZM248.44 290.5h2.5v3.1h-2.5ZM251.65 289.8h2.5v2.9h-2.5ZM254.86 289.8h2.5v1.3h-2.5ZM258.06 289.0h2.5v2.1h-2.5ZM261.27 287.8h2.5v2.0h-2.5ZM264.47 285.8h2.5v2.8h-2.5ZM267.68 276.0h2.5v11.8h-2.5ZM270.88 265.8h2.5v15.9h-2.5ZM274.09 266.6h2.5v7.4h-2.5ZM283.71 260.1h2.5v11.0h-2.5ZM286.91 259.7h2.5v5.7h-2.5ZM296.53 263.0h2.5v2.0h-2.5ZM309.35 266.4h2.5v2.7h-2.5ZM312.56 266.9h2.5v0.9h-2.5ZM315.76 265.5h2.5v2.3h-2.5ZM318.97 265.8h2.5v1.1h-2.5ZM328.59 263.7h2.5v4.1h-2.5ZM331.79 262.8h2.5v2.7h-2.5ZM335.00 262.4h2.5v1.8h-2.5ZM338.20 260.1h2.5v3.6h-2.5ZM341.41 256.9h2.5v4.6h-2.5ZM344.62 258.3h2.5v0.9h-2.5ZM351.03 258.3h2.5v1.8h-2.5ZM354.23 254.9h2.5v4.7h-2.5ZM357.44 245.2h2.5v11.7h-2.5ZM360.64 241.1h2.5v9.5h-2.5ZM363.85 242.5h2.5v3.6h-2.5ZM376.67 243.2h2.5v4.5h-2.5ZM379.88 239.8h2.5v5.4h-2.5ZM383.08 241.6h2.5v0.9h-2.5ZM392.70 241.1h2.5v2.5h-2.5ZM395.91 234.8h2.5v7.7h-2.5ZM399.11 219.9h2.5v19.0h-2.5ZM402.32 208.6h2.5v20.3h-2.5ZM405.52 198.3h2.5v20.7h-2.5ZM408.73 184.2h2.5v24.4h-2.5ZM411.94 176.0h2.5v20.1h-2.5ZM415.14 180.2h2.5v6.1h-2.5ZM434.38 192.8h2.5v3.8h-2.5ZM437.58 186.9h2.5v7.6h-2.5ZM460.02 202.7h2.5v7.5h-2.5ZM463.23 202.1h2.5v4.9h-2.5ZM466.43 199.1h2.5v5.2h-2.5ZM476.05 207.0h2.5v1.4h-2.5ZM482.46 207.5h2.5v1.3h-2.5ZM485.67 202.1h2.5v6.0h-2.5ZM488.87 204.0h2.5v0.9h-2.5ZM511.31 220.4h2.5v2.3h-2.5ZM514.52 217.1h2.5v5.0h-2.5ZM517.72 212.0h2.5v7.3h-2.5ZM520.93 208.1h2.5v7.9h-2.5ZM524.13 203.6h2.5v8.4h-2.5ZM527.34 197.5h2.5v10.1h-2.5ZM536.96 202.5h2.5v2.3h-2.5ZM540.16 203.1h2.5v1.1h-2.5ZM552.99 204.2h2.5v2.8h-2.5ZM556.19 198.0h2.5v7.9h-2.5ZM559.40 193.6h2.5v8.2h-2.5ZM562.60 187.5h2.5v10.0h-2.5ZM565.81 188.7h2.5v3.9h-2.5ZM569.01 188.7h2.5v2.2h-2.5ZM572.22 183.4h2.5v5.8h-2.5ZM575.43 179.1h2.5v7.3h-2.5ZM578.63 179.1h2.5v4.0h-2.5ZM591.45 183.1h2.5v2.2h-2.5ZM610.69 196.0h2.5v1.6h-2.5ZM613.89 192.6h2.5v4.5h-2.5ZM617.10 188.1h2.5v6.2h-2.5ZM620.31 182.0h2.5v9.5h-2.5ZM623.51 164.9h2.5v21.7h-2.5ZM626.72 157.1h2.5v18.6h-2.5ZM629.92 157.1h2.5v8.9h-2.5ZM633.13 157.8h2.5v7.1h-2.5ZM636.33 154.0h2.5v5.5h-2.5ZM642.75 158.9h2.5v0.9h-2.5ZM645.95 143.2h2.5v16.8h-2.5ZM649.16 131.8h2.5v19.5h-2.5ZM652.36 132.9h2.5v8.7h-2.5ZM655.57 134.5h2.5v2.7h-2.5ZM658.77 133.4h2.5v2.7h-2.5ZM661.98 127.0h2.5v8.0h-2.5ZM665.19 114.1h2.5v16.5h-2.5ZM668.39 96.1h2.5v26.3h-2.5ZM671.60 81.8h2.5v27.6h-2.5ZM674.80 71.9h2.5v24.0h-2.5ZM678.01 62.2h2.5v21.7h-2.5ZM681.21 49.1h2.5v23.4h-2.5ZM690.83 70.8h2.5v3.9h-2.5ZM700.45 82.4h2.5v1.7h-2.5ZM703.65 69.2h2.5v14.1h-2.5ZM706.86 63.8h2.5v11.9h-2.5ZM710.07 68.7h2.5v1.1h-2.5ZM713.27 68.7h2.5v1.1h-2.5ZM716.48 65.6h2.5v3.8h-2.5ZM719.68 58.4h2.5v8.8h-2.5ZM722.89 52.0h2.5v10.7h-2.5ZM726.09 55.2h2.5v2.4h-2.5ZM745.33 80.0h2.5v0.9h-2.5ZM748.53 79.7h2.5v1.2h-2.5ZM783.80 140.6h2.5v4.7h-2.5ZM787.00 131.2h2.5v10.3h-2.5ZM790.21 126.1h2.5v10.3h-2.5ZM793.41 121.2h2.5v9.8h-2.5ZM796.62 116.3h2.5v9.7h-2.5ZM825.47 148.2h2.5v6.1h-2.5ZM828.68 140.0h2.5v10.2h-2.5ZM831.88 132.6h2.5v12.2h-2.5ZM835.09 131.9h2.5v6.8h-2.5ZM838.29 125.1h2.5v10.2h-2.5ZM841.50 118.3h2.5v12.2h-2.5Z" fill="#449782"/>
<path d="M9.27 320.2V322.8M12.47 320.9V324.6M41.32 321.2V324.0M73.38 323.9V327.0M76.59 324.5V327.3M166.35 318.1V320.6M246.49 292.2V295.8M278.55 262.6V275.6M281.75 265.0V276.0M291.37 261.4V271.5M294.57 261.4V270.7M300.99 260.5V268.3M304.19 264.2V275.6M307.40 264.2V275.2M323.43 266.0V272.3M326.63 264.6V271.4M349.07 259.2V263.3M368.31 239.8V255.1M371.51 245.2V250.0M374.72 243.4V250.0M387.54 239.8V246.1M390.75 238.9V250.0M419.60 178.2V194.5M422.80 185.2V205.3M426.01 186.9V202.6M429.21 190.1V200.4M432.42 193.9V202.0M442.04 186.4V235.0M445.24 189.1V206.5M448.45 193.4V208.6M451.65 199.1V214.0M454.86 203.2V221.1M458.07 202.1V223.8M470.89 201.6V222.2M474.09 205.9V216.8M480.51 206.5V211.9M493.33 205.2V220.6M496.53 209.2V216.2M499.74 211.3V215.1M502.95 211.9V228.5M506.15 217.1V233.0M509.36 218.2V226.6M531.80 197.5V207.6M535.00 203.1V211.5M544.62 203.6V208.7M547.82 205.3V209.8M551.03 205.9V211.5M583.09 180.8V189.2M586.29 182.5V192.6M589.50 180.3V189.8M595.91 183.6V196.5M599.12 186.4V201.0M602.32 189.8V199.3M605.53 193.2V203.3M608.73 194.3V203.8M640.79 137.2V200.4M685.67 51.6V101.2M688.88 60.0V106.5M695.29 73.3V98.2M698.49 80.0V94.7M730.55 56.2V85.6M733.76 62.6V84.4M736.96 65.0V79.1M740.17 70.9V98.0M743.37 76.8V89.7M752.99 79.1V96.5M756.20 83.6V103.5M759.40 86.0V95.0M762.61 86.0V150.6M765.81 101.1V189.4M769.02 121.8V155.3M772.22 116.9V150.6M775.43 131.1V161.2M778.64 137.0V161.2M781.84 134.7V159.4M801.08 110.9V132.0M804.28 122.4V136.6M807.49 127.1V142.0M810.69 132.3V151.6M813.90 135.5V144.1M817.10 139.3V150.2M820.31 142.1V168.5M823.52 148.2V173.3" stroke="#df484c" stroke-width="0.9" fill="none"/>
<path d="M-1.60 319.8h2.5v1.1h-2.5ZM1.61 320.1h2.5v0.9h-2.5ZM4.81 320.1h2.5v0.9h-2.5ZM8.02 320.2h2.5v1.6h-2.5ZM11.22 320.9h2.5v1.2h-2.5ZM20.84 321.2h2.5v1.2h-2.5ZM24.05 322.1h2.5v0.9h-2.5ZM27.25 322.1h2.5v0.9h-2.5ZM30.46 322.1h2.5v0.9h-2.5ZM40.07 321.2h2.5v1.9h-2.5ZM43.28 322.8h2.5v1.6h-2.5ZM46.49 323.4h2.5v0.9h-2.5ZM49.69 323.4h2.5v0.9h-2.5ZM52.90 323.4h2.5v0.9h-2.5ZM62.51 323.1h2.5v0.9h-2.5ZM68.93 323.1h2.5v0.9h-2.5ZM72.13 323.9h2.5v2.2h-2.5ZM75.34 324.5h2.5v1.9h-2.5ZM78.54 325.4h2.5v1.3h-2.5ZM81.75 325.4h2.5v0.9h-2.5ZM94.57 324.2h2.5v0.9h-2.5ZM107.39 323.1h2.5v0.9h-2.5ZM110.60 323.2h2.5v0.9h-2.5ZM113.81 323.6h2.5v0.9h-2.5ZM117.01 323.6h2.5v0.9h-2.5ZM120.22 323.9h2.5v0.9h-2.5ZM123.42 324.0h2.5v0.9h-2.5ZM126.63 323.9h2.5v0.9h-2.5ZM152.27 318.1h2.5v0.9h-2.5ZM161.89 318.1h2.5v0.9h-2.5ZM165.10 318.1h2.5v1.6h-2.5ZM168.30 318.8h2.5v1.1h-2.5ZM171.51 319.4h2.5v0.9h-2.5ZM174.71 319.9h2.5v1.2h-2.5ZM177.92 320.0h2.5v0.9h-2.5ZM226.00 304.7h2.5v0.9h-2.5ZM245.24 293.0h2.5v1.0h-2.5ZM277.30 269.5h2.5v1.2h-2.5ZM280.50 269.9h2.5v0.9h-2.5ZM290.12 262.2h2.5v3.6h-2.5ZM293.32 263.8h2.5v2.0h-2.5ZM299.74 263.4h2.5v0.9h-2.5ZM302.94 264.2h2.5v6.9h-2.5ZM306.15 267.9h2.5v2.4h-2.5ZM322.18 266.0h2.5v2.7h-2.5ZM325.38 266.9h2.5v0.9h-2.5ZM347.82 259.2h2.5v1.3h-2.5ZM367.06 244.3h2.5v0.9h-2.5ZM370.26 245.2h2.5v3.3h-2.5ZM373.47 246.6h2.5v2.7h-2.5ZM386.29 242.0h2.5v1.4h-2.5ZM389.50 243.2h2.5v1.3h-2.5ZM418.35 183.1h2.5v3.2h-2.5ZM421.55 185.2h2.5v10.4h-2.5ZM424.76 190.1h2.5v4.4h-2.5ZM427.96 193.2h2.5v2.1h-2.5ZM431.17 193.9h2.5v4.4h-2.5ZM440.79 190.7h2.5v13.6h-2.5ZM443.99 197.2h2.5v1.5h-2.5ZM447.20 197.8h2.5v1.6h-2.5ZM450.40 199.1h2.5v7.9h-2.5ZM453.61 203.2h2.5v10.8h-2.5ZM456.82 208.6h2.5v3.3h-2.5ZM469.64 201.6h2.5v8.1h-2.5ZM472.84 205.9h2.5v5.4h-2.5ZM479.26 208.1h2.5v1.6h-2.5ZM492.08 205.2h2.5v7.8h-2.5ZM495.28 209.2h2.5v3.2h-2.5ZM498.49 211.3h2.5v2.5h-2.5ZM501.70 211.9h2.5v8.7h-2.5ZM504.90 217.1h2.5v14.0h-2.5ZM508.11 220.4h2.5v1.7h-2.5ZM530.55 202.0h2.5v1.1h-2.5ZM533.75 203.1h2.5v3.9h-2.5ZM543.37 203.6h2.5v3.4h-2.5ZM546.57 205.3h2.5v2.3h-2.5ZM549.78 205.9h2.5v2.2h-2.5ZM581.84 180.8h2.5v2.8h-2.5ZM585.04 182.5h2.5v5.1h-2.5ZM588.25 185.3h2.5v0.9h-2.5ZM594.66 183.6h2.5v5.1h-2.5ZM597.87 186.4h2.5v6.8h-2.5ZM601.07 189.8h2.5v6.2h-2.5ZM604.28 193.2h2.5v7.8h-2.5ZM607.48 197.1h2.5v1.1h-2.5ZM639.54 156.7h2.5v6.0h-2.5ZM684.42 61.1h2.5v14.6h-2.5ZM687.63 68.1h2.5v13.0h-2.5ZM694.04 73.3h2.5v12.6h-2.5ZM697.24 80.0h2.5v8.8h-2.5ZM729.30 56.2h2.5v15.3h-2.5ZM732.51 63.8h2.5v10.0h-2.5ZM735.71 69.1h2.5v3.5h-2.5ZM738.92 70.9h2.5v12.3h-2.5ZM742.12 76.8h2.5v8.2h-2.5ZM751.74 80.7h2.5v6.0h-2.5ZM754.95 83.6h2.5v8.4h-2.5ZM758.15 89.2h2.5v1.3h-2.5ZM761.36 89.8h2.5v22.7h-2.5ZM764.56 101.1h2.5v41.9h-2.5ZM767.77 121.8h2.5v13.7h-2.5ZM770.97 129.3h2.5v4.3h-2.5ZM774.18 131.1h2.5v16.5h-2.5ZM777.39 139.4h2.5v10.0h-2.5ZM780.59 144.7h2.5v0.9h-2.5ZM799.83 121.0h2.5v1.6h-2.5ZM803.03 122.4h2.5v9.3h-2.5ZM806.24 127.1h2.5v11.6h-2.5ZM809.44 132.3h2.5v9.8h-2.5ZM812.65 137.3h2.5v3.4h-2.5ZM815.85 139.3h2.5v6.2h-2.5ZM819.06 142.1h2.5v12.2h-2.5ZM822.27 148.2h2.5v9.5h-2.5Z" fill="#df484c"/>
<path d="M0 118.5H940" stroke="#449782" stroke-width="1" stroke-dasharray="1 1" fill="none" opacity="0.55"/>
<path d="M0 356.5H1024" stroke="#e0e3eb" stroke-width="1"/>
<path d="M0 473.5H982" stroke="#f9f9fa" stroke-width="1.2" fill="none"/>
<path d="M0 473.5H982" stroke="#a4a6ae" stroke-width="0.8" stroke-dasharray="3 4" stroke-dashoffset="2" fill="none" opacity="0.75"/>
<path d="M62.56 472.50h2.4V473.5h-2.4ZM65.77 472.50h2.4V473.5h-2.4ZM88.21 472.50h2.4V473.5h-2.4ZM91.42 472.50h2.4V473.5h-2.4ZM94.62 472.50h2.4V473.5h-2.4ZM97.83 472.30h2.4V473.5h-2.4ZM101.03 471.90h2.4V473.5h-2.4ZM104.24 471.90h2.4V473.5h-2.4ZM107.44 471.90h2.4V473.5h-2.4ZM129.88 472.50h2.4V473.5h-2.4ZM133.09 472.50h2.4V473.5h-2.4ZM136.30 472.30h2.4V473.5h-2.4ZM139.50 471.50h2.4V473.5h-2.4ZM142.71 471.00h2.4V473.5h-2.4ZM145.91 470.50h2.4V473.5h-2.4ZM187.59 472.50h2.4V473.5h-2.4ZM190.79 472.50h2.4V473.5h-2.4ZM194.00 472.50h2.4V473.5h-2.4ZM197.20 472.50h2.4V473.5h-2.4ZM200.41 472.00h2.4V473.5h-2.4ZM203.62 471.00h2.4V473.5h-2.4ZM206.82 470.40h2.4V473.5h-2.4ZM210.03 469.80h2.4V473.5h-2.4ZM213.23 469.20h2.4V473.5h-2.4ZM216.44 469.20h2.4V473.5h-2.4ZM235.67 470.10h2.4V473.5h-2.4ZM238.88 469.10h2.4V473.5h-2.4ZM242.08 468.10h2.4V473.5h-2.4ZM267.73 469.40h2.4V473.5h-2.4ZM270.93 467.10h2.4V473.5h-2.4ZM274.14 466.20h2.4V473.5h-2.4ZM283.76 467.10h2.4V473.5h-2.4ZM286.96 467.10h2.4V473.5h-2.4ZM357.49 472.40h2.4V473.5h-2.4ZM360.69 470.10h2.4V473.5h-2.4ZM363.90 470.00h2.4V473.5h-2.4ZM376.72 472.50h2.4V473.5h-2.4ZM379.93 472.40h2.4V473.5h-2.4ZM399.16 470.20h2.4V473.5h-2.4ZM402.37 466.00h2.4V473.5h-2.4ZM405.57 462.10h2.4V473.5h-2.4ZM408.78 457.20h2.4V473.5h-2.4ZM411.99 453.80h2.4V473.5h-2.4ZM524.18 472.00h2.4V473.5h-2.4ZM527.39 469.60h2.4V473.5h-2.4ZM530.60 469.10h2.4V473.5h-2.4ZM537.01 469.40h2.4V473.5h-2.4ZM553.04 472.00h2.4V473.5h-2.4ZM556.24 471.00h2.4V473.5h-2.4ZM559.45 469.80h2.4V473.5h-2.4ZM562.65 468.10h2.4V473.5h-2.4ZM565.86 467.10h2.4V473.5h-2.4ZM569.06 467.00h2.4V473.5h-2.4ZM572.27 466.50h2.4V473.5h-2.4ZM575.48 465.70h2.4V473.5h-2.4ZM578.68 465.60h2.4V473.5h-2.4ZM623.56 469.90h2.4V473.5h-2.4ZM626.77 465.00h2.4V473.5h-2.4ZM629.97 463.10h2.4V473.5h-2.4ZM633.18 462.10h2.4V473.5h-2.4ZM636.38 462.00h2.4V473.5h-2.4ZM646.00 464.10h2.4V473.5h-2.4ZM649.21 461.30h2.4V473.5h-2.4ZM652.41 460.80h2.4V473.5h-2.4ZM665.24 462.10h2.4V473.5h-2.4ZM668.44 458.40h2.4V473.5h-2.4ZM671.65 455.00h2.4V473.5h-2.4ZM674.85 451.40h2.4V473.5h-2.4ZM678.06 449.10h2.4V473.5h-2.4ZM681.26 447.20h2.4V473.5h-2.4ZM796.67 472.50h2.4V473.5h-2.4ZM799.88 471.20h2.4V473.5h-2.4ZM831.93 470.00h2.4V473.5h-2.4ZM835.14 467.00h2.4V473.5h-2.4ZM838.34 464.20h2.4V473.5h-2.4ZM841.55 461.10h2.4V473.5h-2.4Z" fill="#52a49a"/>
<path d="M59.36 472.50h2.4V473.5h-2.4ZM68.98 472.50h2.4V473.5h-2.4ZM110.65 472.30h2.4V473.5h-2.4ZM113.86 472.30h2.4V473.5h-2.4ZM117.06 472.50h2.4V473.5h-2.4ZM120.27 472.50h2.4V473.5h-2.4ZM123.47 472.50h2.4V473.5h-2.4ZM126.68 472.50h2.4V473.5h-2.4ZM149.12 472.00h2.4V473.5h-2.4ZM152.32 472.00h2.4V473.5h-2.4ZM155.53 471.70h2.4V473.5h-2.4ZM158.74 472.00h2.4V473.5h-2.4ZM161.94 472.30h2.4V473.5h-2.4ZM165.15 472.50h2.4V473.5h-2.4ZM168.35 472.50h2.4V473.5h-2.4ZM171.56 472.50h2.4V473.5h-2.4ZM219.64 469.40h2.4V473.5h-2.4ZM222.85 469.80h2.4V473.5h-2.4ZM226.05 470.60h2.4V473.5h-2.4ZM229.26 470.80h2.4V473.5h-2.4ZM232.47 470.80h2.4V473.5h-2.4ZM245.29 469.10h2.4V473.5h-2.4ZM248.49 469.40h2.4V473.5h-2.4ZM251.70 469.40h2.4V473.5h-2.4ZM254.91 470.10h2.4V473.5h-2.4ZM258.11 470.80h2.4V473.5h-2.4ZM261.32 471.00h2.4V473.5h-2.4ZM264.52 471.00h2.4V473.5h-2.4ZM277.35 466.60h2.4V473.5h-2.4ZM280.55 468.10h2.4V473.5h-2.4ZM290.17 469.10h2.4V473.5h-2.4ZM293.37 470.70h2.4V473.5h-2.4ZM296.58 471.70h2.4V473.5h-2.4ZM299.79 472.50h2.4V473.5h-2.4ZM367.11 470.70h2.4V473.5h-2.4ZM370.31 472.40h2.4V473.5h-2.4ZM373.52 472.50h2.4V473.5h-2.4ZM383.13 472.50h2.4V473.5h-2.4ZM415.19 454.00h2.4V473.5h-2.4ZM418.40 457.20h2.4V473.5h-2.4ZM421.60 462.10h2.4V473.5h-2.4ZM424.81 466.00h2.4V473.5h-2.4ZM428.01 469.40h2.4V473.5h-2.4ZM431.22 472.50h2.4V473.5h-2.4ZM533.80 469.60h2.4V473.5h-2.4ZM540.21 471.00h2.4V473.5h-2.4ZM543.42 471.10h2.4V473.5h-2.4ZM546.62 472.00h2.4V473.5h-2.4ZM549.83 472.50h2.4V473.5h-2.4ZM581.89 467.40h2.4V473.5h-2.4ZM585.09 469.30h2.4V473.5h-2.4ZM588.30 471.10h2.4V473.5h-2.4ZM591.50 471.60h2.4V473.5h-2.4ZM594.71 472.50h2.4V473.5h-2.4ZM639.59 464.10h2.4V473.5h-2.4ZM642.80 466.20h2.4V473.5h-2.4ZM655.62 461.80h2.4V473.5h-2.4ZM658.82 463.10h2.4V473.5h-2.4ZM662.03 463.80h2.4V473.5h-2.4ZM684.47 453.20h2.4V473.5h-2.4ZM687.68 460.00h2.4V473.5h-2.4ZM690.88 464.00h2.4V473.5h-2.4ZM694.09 470.20h2.4V473.5h-2.4ZM803.08 472.00h2.4V473.5h-2.4ZM806.29 472.50h2.4V473.5h-2.4Z" fill="#bbdedb"/>
<path d="M4.86 473.50h2.4V474.50h-2.4ZM14.48 473.50h2.4V474.50h-2.4ZM17.68 473.50h2.4V474.50h-2.4ZM20.89 473.50h2.4V474.50h-2.4ZM24.10 473.50h2.4V474.50h-2.4ZM27.30 473.50h2.4V474.50h-2.4ZM30.51 473.50h2.4V474.50h-2.4ZM33.71 473.50h2.4V474.50h-2.4ZM36.92 473.50h2.4V474.50h-2.4ZM49.74 473.50h2.4V474.50h-2.4ZM52.95 473.50h2.4V474.50h-2.4ZM56.15 473.50h2.4V474.50h-2.4ZM81.80 473.50h2.4V474.50h-2.4ZM85.00 473.50h2.4V474.50h-2.4ZM184.38 473.50h2.4V474.50h-2.4ZM328.64 473.50h2.4V478.20h-2.4ZM331.84 473.50h2.4V477.70h-2.4ZM335.05 473.50h2.4V477.20h-2.4ZM338.25 473.50h2.4V476.60h-2.4ZM341.46 473.50h2.4V476.00h-2.4ZM344.67 473.50h2.4V475.80h-2.4ZM351.08 473.50h2.4V475.60h-2.4ZM354.28 473.50h2.4V474.50h-2.4ZM386.34 473.50h2.4V474.50h-2.4ZM395.96 473.50h2.4V474.50h-2.4ZM460.07 473.50h2.4V485.50h-2.4ZM463.28 473.50h2.4V484.50h-2.4ZM466.48 473.50h2.4V482.60h-2.4ZM476.10 473.50h2.4V482.90h-2.4ZM479.31 473.50h2.4V482.80h-2.4ZM482.51 473.50h2.4V481.60h-2.4ZM485.72 473.50h2.4V479.60h-2.4ZM488.92 473.50h2.4V478.60h-2.4ZM508.16 473.50h2.4V481.30h-2.4ZM511.36 473.50h2.4V479.50h-2.4ZM514.57 473.50h2.4V477.60h-2.4ZM517.77 473.50h2.4V476.70h-2.4ZM520.98 473.50h2.4V475.00h-2.4ZM610.74 473.50h2.4V480.10h-2.4ZM613.94 473.50h2.4V478.90h-2.4ZM617.15 473.50h2.4V477.50h-2.4ZM620.36 473.50h2.4V474.50h-2.4ZM703.70 473.50h2.4V478.40h-2.4ZM706.91 473.50h2.4V477.40h-2.4ZM719.73 473.50h2.4V479.10h-2.4ZM722.94 473.50h2.4V477.70h-2.4ZM745.38 473.50h2.4V491.80h-2.4ZM748.58 473.50h2.4V491.20h-2.4ZM758.20 473.50h2.4V492.00h-2.4ZM771.02 473.50h2.4V504.10h-2.4ZM777.44 473.50h2.4V504.20h-2.4ZM780.64 473.50h2.4V501.40h-2.4ZM783.85 473.50h2.4V496.40h-2.4ZM787.05 473.50h2.4V490.30h-2.4ZM790.26 473.50h2.4V484.20h-2.4ZM793.46 473.50h2.4V478.50h-2.4ZM825.52 473.50h2.4V477.10h-2.4ZM828.73 473.50h2.4V474.50h-2.4Z" fill="#f7cfd3"/>
<path d="M-1.55 473.50h2.4V475.00h-2.4ZM1.66 473.50h2.4V475.30h-2.4ZM8.07 473.50h2.4V475.50h-2.4ZM11.27 473.50h2.4V475.80h-2.4ZM40.12 473.50h2.4V474.50h-2.4ZM43.33 473.50h2.4V474.50h-2.4ZM46.54 473.50h2.4V474.70h-2.4ZM72.18 473.50h2.4V474.50h-2.4ZM75.39 473.50h2.4V474.50h-2.4ZM78.59 473.50h2.4V474.50h-2.4ZM174.76 473.50h2.4V474.50h-2.4ZM177.97 473.50h2.4V474.50h-2.4ZM181.18 473.50h2.4V474.50h-2.4ZM302.99 473.50h2.4V476.00h-2.4ZM306.20 473.50h2.4V477.70h-2.4ZM309.40 473.50h2.4V477.80h-2.4ZM312.61 473.50h2.4V477.90h-2.4ZM315.81 473.50h2.4V478.00h-2.4ZM319.02 473.50h2.4V478.50h-2.4ZM322.23 473.50h2.4V478.90h-2.4ZM325.43 473.50h2.4V479.00h-2.4ZM347.87 473.50h2.4V476.00h-2.4ZM389.55 473.50h2.4V474.80h-2.4ZM392.75 473.50h2.4V474.80h-2.4ZM434.43 473.50h2.4V474.50h-2.4ZM437.63 473.50h2.4V474.60h-2.4ZM440.84 473.50h2.4V478.70h-2.4ZM444.04 473.50h2.4V480.30h-2.4ZM447.25 473.50h2.4V481.60h-2.4ZM450.45 473.50h2.4V484.20h-2.4ZM453.66 473.50h2.4V487.20h-2.4ZM456.87 473.50h2.4V487.90h-2.4ZM469.69 473.50h2.4V483.50h-2.4ZM472.89 473.50h2.4V484.50h-2.4ZM492.13 473.50h2.4V480.10h-2.4ZM495.33 473.50h2.4V480.50h-2.4ZM498.54 473.50h2.4V480.60h-2.4ZM501.75 473.50h2.4V481.80h-2.4ZM504.95 473.50h2.4V483.40h-2.4ZM597.92 473.50h2.4V475.50h-2.4ZM601.12 473.50h2.4V477.70h-2.4ZM604.33 473.50h2.4V479.70h-2.4ZM607.53 473.50h2.4V480.70h-2.4ZM697.29 473.50h2.4V475.90h-2.4ZM700.50 473.50h2.4V478.70h-2.4ZM710.12 473.50h2.4V478.70h-2.4ZM713.32 473.50h2.4V479.80h-2.4ZM716.53 473.50h2.4V479.90h-2.4ZM726.14 473.50h2.4V478.00h-2.4ZM729.35 473.50h2.4V481.90h-2.4ZM732.56 473.50h2.4V484.80h-2.4ZM735.76 473.50h2.4V486.80h-2.4ZM738.97 473.50h2.4V489.90h-2.4ZM742.17 473.50h2.4V492.00h-2.4ZM751.79 473.50h2.4V491.60h-2.4ZM755.00 473.50h2.4V492.80h-2.4ZM761.41 473.50h2.4V495.70h-2.4ZM764.61 473.50h2.4V503.40h-2.4ZM767.82 473.50h2.4V505.30h-2.4ZM774.23 473.50h2.4V505.40h-2.4ZM809.49 473.50h2.4V474.50h-2.4ZM812.70 473.50h2.4V474.80h-2.4ZM815.90 473.50h2.4V475.50h-2.4ZM819.11 473.50h2.4V477.50h-2.4ZM822.32 473.50h2.4V478.80h-2.4Z" fill="#ec5f59"/>
<path d="M0.0 474.40 L1.6 474.53 L3.2 474.66 L4.8 474.81 L6.4 474.96 L8.0 475.12 L9.6 475.28 L11.2 475.46 L12.8 475.63 L14.4 475.85 L16.0 476.11 L17.6 476.39 L19.2 476.67 L20.8 476.92 L22.4 477.12 L24.0 477.26 L25.6 477.31 L27.2 477.34 L28.8 477.36 L30.4 477.38 L32.0 477.39 L33.6 477.40 L35.2 477.41 L36.8 477.42 L38.4 477.43 L40.0 477.45 L41.6 477.47 L43.2 477.49 L44.8 477.53 L46.4 477.60 L48.0 477.69 L49.6 477.80 L51.2 477.90 L52.8 478.00 L54.4 478.07 L56.0 478.10 L57.6 478.08 L59.2 477.99 L60.8 477.86 L62.4 477.71 L64.0 477.56 L65.6 477.43 L67.2 477.34 L68.8 477.30 L70.4 477.34 L72.0 477.43 L73.6 477.56 L75.2 477.71 L76.8 477.86 L78.4 477.99 L80.0 478.08 L81.6 478.10 L83.2 478.05 L84.8 477.93 L86.4 477.77 L88.0 477.58 L89.6 477.38 L91.2 477.18 L92.8 477.00 L94.4 476.85 L96.0 476.71 L97.6 476.58 L99.2 476.45 L100.8 476.35 L102.4 476.26 L104.0 476.17 L105.6 476.10 L107.2 476.03 L108.8 475.96 L110.4 475.89 L112.0 475.82 L113.6 475.75 L115.2 475.67 L116.8 475.58 L118.4 475.48 L120.0 475.36 L121.6 475.24 L123.2 475.10 L124.8 474.95 L126.4 474.78 L128.0 474.60 L129.6 474.40 L131.2 474.19 L132.8 473.96 L134.4 473.72 L136.0 473.45 L137.6 473.17 L139.2 472.86 L140.8 472.43 L142.4 471.86 L144.0 471.22 L145.6 470.58 L147.2 470.02 L148.8 469.60 L150.4 469.28 L152.0 468.96 L153.6 468.67 L155.2 468.43 L156.8 468.27 L158.4 468.20 L160.0 468.24 L161.6 468.35 L163.2 468.52 L164.8 468.73 L166.4 468.95 L168.0 469.15 L169.6 469.35 L171.2 469.58 L172.8 469.82 L174.4 470.06 L176.0 470.28 L177.6 470.45 L179.2 470.59 L180.8 470.73 L182.4 470.86 L184.0 470.97 L185.6 471.05 L187.2 471.10 L188.8 471.08 L190.4 470.96 L192.0 470.75 L193.6 470.48 L195.2 470.15 L196.8 469.80 L198.4 469.43 L200.0 468.92 L201.6 468.28 L203.2 467.57 L204.8 466.83 L206.4 466.12 L208.0 465.46 L209.6 464.79 L211.2 464.10 L212.8 463.42 L214.4 462.78 L216.0 462.19 L217.6 461.68 L219.2 461.22 L220.8 460.79 L222.4 460.39 L224.0 460.02 L225.6 459.68 L227.2 459.36 L228.8 459.11 L230.4 458.90 L232.0 458.71 L233.6 458.50 L235.2 458.24 L236.8 457.87 L238.4 457.08 L240.0 455.83 L241.6 454.44 L243.2 453.23 L244.8 452.51 L246.4 452.07 L248.0 451.70 L249.6 451.41 L251.2 451.15 L252.8 450.94 L254.4 450.76 L256.0 450.62 L257.6 450.48 L259.2 450.32 L260.8 450.12 L262.4 449.89 L264.0 449.61 L265.6 449.22 L267.2 448.33 L268.8 446.42 L270.4 444.05 L272.0 441.83 L273.6 440.39 L275.2 439.81 L276.8 439.42 L278.4 439.11 L280.0 438.77 L281.6 438.30 L283.2 437.43 L284.8 436.23 L286.4 435.11 L288.0 434.45 L289.6 434.50 L291.2 434.92 L292.8 435.51 L294.4 436.12 L296.0 436.58 L297.6 436.96 L299.2 437.39 L300.8 438.06 L302.4 439.11 L304.0 440.35 L305.6 441.61 L307.2 442.68 L308.8 443.47 L310.4 444.15 L312.0 444.75 L313.6 445.33 L315.2 445.92 L316.8 446.58 L318.4 447.36 L320.0 448.32 L321.6 449.36 L323.2 450.36 L324.8 451.23 L326.4 451.84 L328.0 452.15 L329.6 452.41 L331.2 452.64 L332.8 452.84 L334.4 453.00 L336.0 453.12 L337.6 453.18 L339.2 453.17 L340.8 452.68 L342.4 452.22 L344.0 452.29 L345.6 452.58 L347.2 452.99 L348.8 453.42 L350.4 453.79 L352.0 453.99 L353.6 453.83 L355.2 453.17 L356.8 452.41 L358.4 451.35 L360.0 450.00 L361.6 448.60 L363.2 447.35 L364.8 446.48 L366.4 446.20 L368.0 446.46 L369.6 446.97 L371.2 447.54 L372.8 447.98 L374.4 448.10 L376.0 448.01 L377.6 447.86 L379.2 447.66 L380.8 447.48 L382.4 447.34 L384.0 447.30 L385.6 447.52 L387.2 447.98 L388.8 448.56 L390.4 449.12 L392.0 449.55 L393.6 449.70 L395.2 449.39 L396.8 448.67 L398.4 447.70 L400.0 445.85 L401.6 442.70 L403.2 438.71 L404.8 434.36 L406.4 430.13 L408.0 426.27 L409.6 422.06 L411.2 418.00 L412.8 414.80 L414.4 412.43 L416.0 410.27 L417.6 408.75 L419.2 408.32 L420.8 408.84 L422.4 409.93 L424.0 411.31 L425.6 412.74 L427.2 413.96 L428.8 415.19 L430.4 416.46 L432.0 417.70 L433.6 418.84 L435.2 419.78 L436.8 420.50 L438.4 421.18 L440.0 422.04 L441.6 423.34 L443.2 425.20 L444.8 427.31 L446.4 429.32 L448.0 431.09 L449.6 432.83 L451.2 434.75 L452.8 437.20 L454.4 440.79 L456.0 444.57 L457.6 447.32 L459.2 448.51 L460.8 449.30 L462.4 449.88 L464.0 450.40 L465.6 450.96 L467.2 451.71 L468.8 452.80 L470.4 454.30 L472.0 455.98 L473.6 457.61 L475.2 459.01 L476.8 460.42 L478.4 461.67 L480.0 462.40 L481.6 462.68 L483.2 462.86 L484.8 463.00 L486.4 463.17 L488.0 463.44 L489.6 464.01 L491.2 464.86 L492.8 465.87 L494.4 466.94 L496.0 467.94 L497.6 468.88 L499.2 469.87 L500.8 471.02 L502.4 472.58 L504.0 474.93 L505.6 477.33 L507.2 478.95 L508.8 479.74 L510.4 480.38 L512.0 480.80 L513.6 480.89 L515.2 480.61 L516.8 480.06 L518.4 479.34 L520.0 478.40 L521.6 476.75 L523.2 474.83 L524.8 473.18 L526.4 471.87 L528.0 470.61 L529.6 469.63 L531.2 469.12 L532.8 468.87 L534.4 468.72 L536.0 468.58 L537.6 468.39 L539.2 467.99 L540.8 466.98 L542.4 466.30 L544.0 466.42 L545.6 466.75 L547.2 467.19 L548.8 467.65 L550.4 468.01 L552.0 468.19 L553.6 467.86 L555.2 466.76 L556.8 465.35 L558.4 464.09 L560.0 462.91 L561.6 461.68 L563.2 460.45 L564.8 459.27 L566.4 458.17 L568.0 457.16 L569.6 456.20 L571.2 455.25 L572.8 454.26 L574.4 453.14 L576.0 451.64 L577.6 450.17 L579.2 449.34 L580.8 449.37 L582.4 449.63 L584.0 449.98 L585.6 450.32 L587.2 450.62 L588.8 450.95 L590.4 451.34 L592.0 451.84 L593.6 452.51 L595.2 453.35 L596.8 454.33 L598.4 455.57 L600.0 457.22 L601.6 458.99 L603.2 460.58 L604.8 462.10 L606.4 463.56 L608.0 464.79 L609.6 465.64 L611.2 466.39 L612.8 466.98 L614.4 467.29 L616.0 467.17 L617.6 466.64 L619.2 465.80 L620.8 464.75 L622.4 462.44 L624.0 458.96 L625.6 455.32 L627.2 452.38 L628.8 449.42 L630.4 446.53 L632.0 444.04 L633.6 442.32 L635.2 441.56 L636.8 441.14 L638.4 440.85 L640.0 440.54 L641.6 440.09 L643.2 439.18 L644.8 437.36 L646.4 434.96 L648.0 432.32 L649.6 429.83 L651.2 427.83 L652.8 426.57 L654.4 425.68 L656.0 424.89 L657.6 423.97 L659.2 422.78 L660.8 421.40 L662.4 419.95 L664.0 418.30 L665.6 416.28 L667.2 413.45 L668.8 409.41 L670.4 404.86 L672.0 400.55 L673.6 396.58 L675.2 392.63 L676.8 388.66 L678.4 384.50 L680.0 379.18 L681.6 375.13 L683.2 374.71 L684.8 375.26 L686.4 376.91 L688.0 378.99 L689.6 379.67 L691.2 380.19 L692.8 382.28 L694.4 385.50 L696.0 388.32 L697.6 390.81 L699.2 393.21 L700.8 395.13 L702.4 396.14 L704.0 396.69 L705.6 397.10 L707.2 397.59 L708.8 398.39 L710.4 399.51 L712.0 400.71 L713.6 401.75 L715.2 402.66 L716.8 403.57 L718.4 404.22 L720.0 404.40 L721.6 404.40 L723.2 404.40 L724.8 404.40 L726.4 404.60 L728.0 405.93 L729.6 407.80 L731.2 410.26 L732.8 413.57 L734.4 417.24 L736.0 420.81 L737.6 424.65 L739.2 428.60 L740.8 432.23 L742.4 435.18 L744.0 437.71 L745.6 440.00 L747.2 442.08 L748.8 443.98 L750.4 445.88 L752.0 447.96 L753.6 450.21 L755.2 452.54 L756.8 455.16 L758.4 458.27 L760.0 462.45 L761.6 467.81 L763.2 473.26 L764.8 478.20 L766.4 483.07 L768.0 487.76 L769.6 492.23 L771.2 496.53 L772.8 500.65 L774.4 504.69 L776.0 508.71 L777.6 512.22 L779.2 515.03 L780.8 517.75 L782.4 519.83 L784.0 520.60 L785.6 520.20 L787.2 519.26 L788.8 518.04 L790.4 516.63 L792.0 514.47 L793.6 511.92 L795.2 509.50 L796.8 507.62 L798.4 505.73 L800.0 504.04 L801.6 502.92 L803.2 502.73 L804.8 503.00 L806.4 503.47 L808.0 503.99 L809.6 504.42 L811.2 504.78 L812.8 505.13 L814.4 505.57 L816.0 506.19 L817.6 507.37 L819.2 508.87 L820.8 510.24 L822.4 511.76 L824.0 512.88 L825.6 512.78 L827.2 511.68 L828.8 510.04 L830.4 508.29 L832.0 506.31 L833.6 503.90 L835.2 501.26 L836.8 498.60 L838.4 495.92 L840.0 493.11 L841.6 490.19 L842.5 488.50" stroke="#3861f6" stroke-width="1" fill="none" opacity="0.8"/>
<path d="M0.0 473.50 L1.6 473.73 L3.2 473.96 L4.8 474.19 L6.4 474.41 L8.0 474.62 L9.6 474.83 L11.2 475.02 L12.8 475.21 L14.4 475.39 L16.0 475.56 L17.6 475.72 L19.2 475.87 L20.8 476.00 L22.4 476.13 L24.0 476.24 L25.6 476.34 L27.2 476.43 L28.8 476.52 L30.4 476.60 L32.0 476.69 L33.6 476.77 L35.2 476.84 L36.8 476.91 L38.4 476.98 L40.0 477.04 L41.6 477.10 L43.2 477.15 L44.8 477.20 L46.4 477.23 L48.0 477.27 L49.6 477.29 L51.2 477.32 L52.8 477.34 L54.4 477.36 L56.0 477.38 L57.6 477.39 L59.2 477.41 L60.8 477.43 L62.4 477.44 L64.0 477.45 L65.6 477.47 L67.2 477.48 L68.8 477.48 L70.4 477.49 L72.0 477.50 L73.6 477.50 L75.2 477.50 L76.8 477.50 L78.4 477.50 L80.0 477.50 L81.6 477.49 L83.2 477.49 L84.8 477.48 L86.4 477.48 L88.0 477.47 L89.6 477.46 L91.2 477.46 L92.8 477.45 L94.4 477.44 L96.0 477.43 L97.6 477.42 L99.2 477.41 L100.8 477.39 L102.4 477.35 L104.0 477.28 L105.6 477.19 L107.2 477.08 L108.8 476.94 L110.4 476.80 L112.0 476.64 L113.6 476.48 L115.2 476.30 L116.8 476.13 L118.4 475.96 L120.0 475.78 L121.6 475.62 L123.2 475.46 L124.8 475.32 L126.4 475.18 L128.0 475.06 L129.6 474.94 L131.2 474.81 L132.8 474.69 L134.4 474.55 L136.0 474.41 L137.6 474.25 L139.2 474.08 L140.8 473.85 L142.4 473.56 L144.0 473.23 L145.6 472.86 L147.2 472.48 L148.8 472.09 L150.4 471.71 L152.0 471.36 L153.6 471.05 L155.2 470.80 L156.8 470.61 L158.4 470.51 L160.0 470.46 L161.6 470.42 L163.2 470.38 L164.8 470.35 L166.4 470.31 L168.0 470.29 L169.6 470.26 L171.2 470.24 L172.8 470.22 L174.4 470.21 L176.0 470.20 L177.6 470.20 L179.2 470.20 L180.8 470.22 L182.4 470.24 L184.0 470.27 L185.6 470.30 L187.2 470.33 L188.8 470.37 L190.4 470.41 L192.0 470.44 L193.6 470.47 L195.2 470.49 L196.8 470.50 L198.4 470.48 L200.0 470.34 L201.6 470.05 L203.2 469.66 L204.8 469.17 L206.4 468.61 L208.0 468.00 L209.6 467.37 L211.2 466.74 L212.8 466.12 L214.4 465.54 L216.0 465.03 L217.6 464.60 L219.2 464.21 L220.8 463.85 L222.4 463.50 L224.0 463.16 L225.6 462.83 L227.2 462.50 L228.8 462.17 L230.4 461.84 L232.0 461.50 L233.6 461.14 L235.2 460.77 L236.8 460.37 L238.4 459.95 L240.0 459.50 L241.6 459.03 L243.2 458.54 L244.8 458.04 L246.4 457.53 L248.0 457.02 L249.6 456.51 L251.2 456.01 L252.8 455.52 L254.4 455.04 L256.0 454.58 L257.6 454.16 L259.2 453.78 L260.8 453.41 L262.4 453.03 L264.0 452.61 L265.6 452.13 L267.2 451.55 L268.8 450.83 L270.4 450.02 L272.0 449.15 L273.6 448.26 L275.2 447.41 L276.8 446.59 L278.4 445.74 L280.0 444.88 L281.6 444.03 L283.2 443.23 L284.8 442.49 L286.4 441.84 L288.0 441.22 L289.6 440.63 L291.2 440.08 L292.8 439.58 L294.4 439.13 L296.0 438.72 L297.6 438.30 L299.2 438.03 L300.8 438.04 L302.4 438.26 L304.0 438.63 L305.6 439.09 L307.2 439.59 L308.8 440.09 L310.4 440.57 L312.0 441.09 L313.6 441.66 L315.2 442.26 L316.8 442.87 L318.4 443.47 L320.0 444.05 L321.6 444.62 L323.2 445.20 L324.8 445.77 L326.4 446.34 L328.0 446.91 L329.6 447.48 L331.2 448.10 L332.8 448.74 L334.4 449.37 L336.0 449.94 L337.6 450.43 L339.2 450.78 L340.8 451.08 L342.4 451.37 L344.0 451.63 L345.6 451.83 L347.2 451.96 L348.8 452.00 L350.4 451.98 L352.0 451.94 L353.6 451.88 L355.2 451.80 L356.8 451.71 L358.4 451.60 L360.0 451.39 L361.6 451.03 L363.2 450.58 L364.8 450.10 L366.4 449.66 L368.0 449.32 L369.6 449.06 L371.2 448.82 L372.8 448.60 L374.4 448.41 L376.0 448.25 L377.6 448.12 L379.2 448.02 L380.8 447.93 L382.4 447.84 L384.0 447.77 L385.6 447.73 L387.2 447.70 L388.8 447.74 L390.4 447.89 L392.0 448.12 L393.6 448.36 L395.2 448.57 L396.8 448.69 L398.4 448.55 L400.0 447.75 L401.6 446.43 L403.2 444.77 L404.8 442.95 L406.4 441.14 L408.0 439.45 L409.6 437.54 L411.2 435.45 L412.8 433.30 L414.4 431.20 L416.0 429.27 L417.6 427.59 L419.2 425.90 L420.8 424.23 L422.4 422.68 L424.0 421.37 L425.6 420.40 L427.2 419.87 L428.8 419.50 L430.4 419.19 L432.0 418.95 L433.6 418.82 L435.2 418.82 L436.8 419.04 L438.4 419.42 L440.0 419.88 L441.6 420.44 L443.2 421.26 L444.8 422.29 L446.4 423.44 L448.0 424.66 L449.6 425.86 L451.2 427.03 L452.8 428.24 L454.4 429.51 L456.0 430.82 L457.6 432.15 L459.2 433.51 L460.8 434.88 L462.4 436.30 L464.0 437.77 L465.6 439.24 L467.2 440.71 L468.8 442.13 L470.4 443.49 L472.0 444.84 L473.6 446.16 L475.2 447.46 L476.8 448.71 L478.4 449.91 L480.0 451.05 L481.6 452.11 L483.2 453.12 L484.8 454.10 L486.4 455.06 L488.0 456.01 L489.6 456.98 L491.2 457.95 L492.8 458.90 L494.4 459.84 L496.0 460.79 L497.6 461.78 L499.2 462.80 L500.8 463.91 L502.4 465.12 L504.0 466.37 L505.6 467.62 L507.2 468.81 L508.8 469.89 L510.4 470.89 L512.0 471.95 L513.6 473.01 L515.2 473.95 L516.8 474.66 L518.4 475.06 L520.0 475.07 L521.6 474.87 L523.2 474.55 L524.8 474.14 L526.4 473.71 L528.0 473.29 L529.6 472.92 L531.2 472.55 L532.8 472.17 L534.4 471.78 L536.0 471.39 L537.6 471.02 L539.2 470.67 L540.8 470.34 L542.4 470.03 L544.0 469.71 L545.6 469.40 L547.2 469.07 L548.8 468.71 L550.4 468.35 L552.0 467.98 L553.6 467.60 L555.2 467.18 L556.8 466.72 L558.4 466.20 L560.0 465.56 L561.6 464.80 L563.2 463.97 L564.8 463.10 L566.4 462.21 L568.0 461.35 L569.6 460.44 L571.2 459.46 L572.8 458.46 L574.4 457.50 L576.0 456.64 L577.6 455.94 L579.2 455.33 L580.8 454.72 L582.4 454.15 L584.0 453.67 L585.6 453.34 L587.2 453.20 L588.8 453.21 L590.4 453.24 L592.0 453.30 L593.6 453.37 L595.2 453.46 L596.8 453.57 L598.4 453.81 L600.0 454.42 L601.6 455.29 L603.2 456.29 L604.8 457.31 L606.4 458.21 L608.0 458.97 L609.6 459.81 L611.2 460.66 L612.8 461.43 L614.4 462.03 L616.0 462.36 L617.6 462.40 L619.2 462.40 L620.8 462.40 L622.4 462.40 L624.0 462.14 L625.6 461.31 L627.2 460.08 L628.8 458.62 L630.4 457.11 L632.0 455.73 L633.6 454.51 L635.2 453.26 L636.8 451.98 L638.4 450.68 L640.0 449.39 L641.6 448.10 L643.2 446.83 L644.8 445.58 L646.4 444.33 L648.0 443.08 L649.6 441.80 L651.2 440.49 L652.8 439.14 L654.4 437.76 L656.0 436.36 L657.6 434.90 L659.2 433.39 L660.8 431.81 L662.4 430.23 L664.0 428.59 L665.6 426.81 L667.2 424.81 L668.8 422.44 L670.4 419.41 L672.0 415.94 L673.6 412.39 L675.2 409.09 L676.8 406.23 L678.4 403.48 L680.0 400.84 L681.6 398.42 L683.2 396.31 L684.8 394.54 L686.4 393.01 L688.0 391.79 L689.6 390.85 L691.2 390.11 L692.8 389.71 L694.4 389.47 L696.0 389.32 L697.6 389.36 L699.2 389.75 L700.8 390.37 L702.4 391.04 L704.0 391.59 L705.6 392.04 L707.2 392.45 L708.8 392.88 L710.4 393.36 L712.0 393.91 L713.6 394.61 L715.2 395.42 L716.8 396.30 L718.4 397.17 L720.0 398.00 L721.6 398.74 L723.2 399.45 L724.8 400.20 L726.4 401.06 L728.0 402.08 L729.6 403.39 L731.2 404.95 L732.8 406.67 L734.4 408.47 L736.0 410.26 L737.6 412.12 L739.2 414.08 L740.8 416.11 L742.4 418.22 L744.0 420.39 L745.6 422.67 L747.2 425.06 L748.8 427.49 L750.4 429.94 L752.0 432.34 L753.6 434.66 L755.2 436.96 L756.8 439.32 L758.4 441.82 L760.0 444.56 L761.6 447.61 L763.2 450.87 L764.8 454.24 L766.4 457.63 L768.0 461.15 L769.6 464.74 L771.2 468.33 L772.8 471.93 L774.4 475.57 L776.0 479.19 L777.6 482.72 L779.2 486.15 L780.8 489.66 L782.4 493.00 L784.0 495.92 L785.6 498.30 L787.2 500.52 L788.8 502.45 L790.4 503.86 L792.0 504.63 L793.6 505.23 L795.2 505.69 L796.8 505.96 L798.4 505.97 L800.0 505.74 L801.6 505.42 L803.2 505.16 L804.8 505.10 L806.4 505.10 L808.0 505.10 L809.6 505.10 L811.2 505.11 L812.8 505.30 L814.4 505.65 L816.0 506.07 L817.6 506.48 L819.2 507.04 L820.8 507.69 L822.4 508.22 L824.0 508.40 L825.6 508.37 L827.2 508.31 L828.8 508.22 L830.4 508.09 L832.0 507.58 L833.6 506.60 L835.2 505.41 L836.8 504.30 L838.4 503.30 L840.0 502.27 L841.6 501.21 L842.5 500.60" stroke="#ed762f" stroke-width="1" fill="none" opacity="0.8"/>
<text x="987.7" y="22.4" font-size="8.4" fill="#141721" text-anchor="start" font-weight="normal" >220.000</text>
<text x="987.7" y="52.8" font-size="8.4" fill="#141721" text-anchor="start" font-weight="normal" >200.000</text>
<text x="987.7" y="83.2" font-size="8.4" fill="#141721" text-anchor="start" font-weight="normal" >180.000</text>
<text x="987.7" y="144.0" font-size="8.4" fill="#141721" text-anchor="start" font-weight="normal" >140.000</text>
<text x="987.7" y="174.4" font-size="8.4" fill="#141721" text-anchor="start" font-weight="normal" >120.000</text>
<text x="987.7" y="204.9" font-size="8.4" fill="#141721" text-anchor="start" font-weight="normal" >100.000</text>
<text x="987.7" y="235.3" font-size="8.4" fill="#141721" text-anchor="start" font-weight="normal" >80.000</text>
<text x="987.7" y="265.7" font-size="8.4" fill="#141721" text-anchor="start" font-weight="normal" >60.000</text>
<text x="987.7" y="296.1" font-size="8.4" fill="#141721" text-anchor="start" font-weight="normal" >40.000</text>
<text x="987.7" y="326.5" font-size="8.4" fill="#141721" text-anchor="start" font-weight="normal" >20.000</text>
<text x="987.7" y="377.6" font-size="8.4" fill="#141721" text-anchor="start" font-weight="normal" >20.000</text>
<text x="987.7" y="397.4" font-size="8.4" fill="#141721" text-anchor="start" font-weight="normal" >16.000</text>
<text x="987.7" y="417.2" font-size="8.4" fill="#141721" text-anchor="start" font-weight="normal" >12.000</text>
<text x="987.7" y="437.0" font-size="8.4" fill="#141721" text-anchor="start" font-weight="normal" >8.000</text>
<text x="987.7" y="456.8" font-size="8.4" fill="#141721" text-anchor="start" font-weight="normal" >4.000</text>
<text x="987.7" y="476.6" font-size="8.4" fill="#141721" text-anchor="start" font-weight="normal" >0.000</text>
<text x="987.7" y="496.4" font-size="8.4" fill="#141721" text-anchor="start" font-weight="normal" >−4.000</text>
<text x="987.7" y="516.2" font-size="8.4" fill="#141721" text-anchor="start" font-weight="normal" >−8.000</text>
<text x="987.7" y="536.0" font-size="8.4" fill="#141721" text-anchor="start" font-weight="normal" >−12.000</text>
<rect x="982" y="91.2" width="40" height="10.4" rx="1.5" fill="#5ad2f5"/>
<text x="987.7" y="99.4" font-size="8.4" fill="#141721" text-anchor="start" font-weight="normal" >162.420</text>
<rect x="982" y="102.2" width="40" height="10.4" rx="1.5" fill="#df484c"/>
<text x="987.7" y="110.4" font-size="8.4" fill="#fff" text-anchor="start" font-weight="normal" >155.688</text>
<rect x="982" y="113.2" width="42" height="19.5" rx="1.5" fill="#449782"/>
<text x="987.7" y="121.2" font-size="8.4" fill="#fff" text-anchor="start" font-weight="normal" >154.638</text>
<text x="987.7" y="130.1" font-size="8.4" fill="#fff" text-anchor="start" font-weight="normal" >16:30:18</text>
<rect x="940" y="113.2" width="41.5" height="10.8" rx="1.5" fill="#449782"/>
<text x="942.95" y="121.6" font-size="8.4" fill="#fff" font-weight="normal" textLength="35.40" lengthAdjust="spacingAndGlyphs">SOLUSDT</text>
<rect x="982" y="185.6" width="40" height="10.4" rx="1.5" fill="#2e6de0"/>
<text x="987.7" y="193.8" font-size="8.4" fill="#fff" text-anchor="start" font-weight="normal" >106.801</text>
<rect x="982" y="345.8" width="32" height="10.3" rx="1.5" fill="#52a49a"/>
<text x="987.7" y="353.9" font-size="8.4" fill="#fff" text-anchor="start" font-weight="normal" >78.4 K</text>
<rect x="982.5" y="456.3" width="30" height="9.6" rx="1.5" fill="#52a49a"/>
<text x="987.7" y="464.1" font-size="8.4" fill="#fff" text-anchor="start" font-weight="normal" >2.506</text>
<rect x="982.5" y="483.2" width="34.5" height="10" rx="1.5" fill="#3861f6"/>
<text x="987.7" y="491.2" font-size="8.4" fill="#fff" text-anchor="start" font-weight="normal" >−3.088</text>
<rect x="982.2" y="495.7" width="35.3" height="10" rx="1.5" fill="#ed762f"/>
<text x="987.7" y="503.7" font-size="8.4" fill="#fff" text-anchor="start" font-weight="normal" >−5.594</text>
<rect x="984" y="0" width="40" height="19.6" fill="#fff"/>
<rect x="985.5" y="1.2" width="40" height="16.4" rx="3" fill="#fff" stroke="#e3e5ec" stroke-width="1"/>
<text x="987.55" y="12.0" font-size="8.4" fill="#141721" font-weight="normal" textLength="20.70" lengthAdjust="spacingAndGlyphs">USDT</text>
<path d="M1018.3 9.0l1.7 1.5l1.7-1.5" stroke="#141721" stroke-width="1" fill="none"/>
<text x="44.5" y="548" font-size="8.4" fill="#141721" text-anchor="middle" font-weight="normal" >Sep</text>
<text x="140.7" y="548" font-size="8.4" fill="#141721" text-anchor="middle" font-weight="normal" >Oct</text>
<text x="240.1" y="548" font-size="8.4" fill="#141721" text-anchor="middle" font-weight="normal" >Nov</text>
<text x="336.2" y="548" font-size="8.4" fill="#141721" text-anchor="middle" font-weight="normal" >Dec</text>
<text x="435.6" y="548" font-size="8.4" fill="#141721" text-anchor="middle" font-weight="bold" >2024</text>
<text x="535.0" y="548" font-size="8.4" fill="#141721" text-anchor="middle" font-weight="normal" >Feb</text>
<text x="628.0" y="548" font-size="8.4" fill="#141721" text-anchor="middle" font-weight="normal" >Mar</text>
<text x="727.3" y="548" font-size="8.4" fill="#141721" text-anchor="middle" font-weight="normal" >Apr</text>
<text x="823.5" y="548" font-size="8.4" fill="#141721" text-anchor="middle" font-weight="normal" >May</text>
<text x="922.9" y="548" font-size="8.4" fill="#141721" text-anchor="middle" font-weight="normal" >Jun</text>
<path d="M1002.5 540.7h5l2.5 4.3l-2.5 4.3h-5l-2.5-4.3z" stroke="#141721" stroke-width="0.9" fill="none"/>
<circle cx="1005" cy="545" r="1.2" stroke="#141721" stroke-width="0.7" fill="none"/>
<circle cx="842.9" cy="348.3" r="6.1" fill="#fff" stroke="#9031aa" stroke-width="1.1"/>
<path d="M844.2 344.6L846.3 344.6L844.1 347.6L845.6 347.6L841.2 352.3L842.5 349.1L840.7 349.1Z" fill="#9031aa" stroke="#9031aa" stroke-width="0.3" stroke-linejoin="round"/>
<circle cx="11.2" cy="6.4" r="3.7" fill="#3f9c98"/>
<path d="M9.5 5.1h3.6M11.3 5.1v3.4" stroke="#fff" stroke-width="1" opacity="0.85"/>
<defs><linearGradient id="solg" x1="1" y1="0" x2="0" y2="1"><stop offset="0" stop-color="#52c79a"/><stop offset="1" stop-color="#8a3cc0"/></linearGradient></defs>
<circle cx="7.3" cy="10.6" r="4.1" fill="#111" stroke="#fff" stroke-width="0.9"/>
<rect x="5.5" y="8.8" width="3.6" height="3.6" rx="0.6" fill="url(#solg)" opacity="0.8"/>
<text x="17.75" y="12.5" font-size="10.3" fill="#141721" font-weight="normal" textLength="30.80" lengthAdjust="spacingAndGlyphs">Solana</text>
<text x="52.0" y="12.5" font-size="10.3" fill="#141721">/</text>
<text x="58.25" y="12.5" font-size="10.3" fill="#141721" font-weight="normal" textLength="28.60" lengthAdjust="spacingAndGlyphs">Tether</text>
<rect x="90.05" y="8.9" width="1.9" height="1.1" fill="#141721" opacity="0.85"/>
<rect x="111.05" y="8.9" width="1.9" height="1.1" fill="#141721" opacity="0.85"/>
<rect x="157.75" y="8.9" width="1.9" height="1.1" fill="#141721" opacity="0.85"/>
<text x="95.85" y="12.5" font-size="10.3" fill="#141721" font-weight="normal" textLength="12.90" lengthAdjust="spacingAndGlyphs">1D</text>
<text x="115.95" y="12.5" font-size="10.3" fill="#141721" font-weight="normal" textLength="38.80" lengthAdjust="spacingAndGlyphs">KUCOIN</text>
<text x="162.35" y="12.5" font-size="10.3" fill="#141721" font-weight="normal" textLength="51.40" lengthAdjust="spacingAndGlyphs">Heikin Ashi</text>
<circle cx="229.3" cy="8.7" r="5.6" fill="#e1efeb"/>
<circle cx="229.3" cy="8.7" r="2.5" fill="#449782"/>
<text x="245.35" y="11.9" font-size="8.4" fill="#141721" font-weight="normal" textLength="6.40" lengthAdjust="spacingAndGlyphs">O</text>
<text x="252.75" y="11.9" font-size="8.4" fill="#449782" font-weight="normal" textLength="32.60" lengthAdjust="spacingAndGlyphs">146.851</text>
<text x="289.35" y="11.9" font-size="8.4" fill="#141721" font-weight="normal" textLength="6.20" lengthAdjust="spacingAndGlyphs">H</text>
<text x="296.75" y="11.9" font-size="8.4" fill="#449782" font-weight="normal" textLength="33.10" lengthAdjust="spacingAndGlyphs">158.124</text>
<text x="334.05" y="11.9" font-size="8.4" fill="#141721" font-weight="normal" textLength="4.10" lengthAdjust="spacingAndGlyphs">L</text>
<text x="340.25" y="11.9" font-size="8.4" fill="#449782" font-weight="normal" textLength="32.30" lengthAdjust="spacingAndGlyphs">146.851</text>
<text x="376.55" y="11.9" font-size="8.4" fill="#141721" font-weight="normal" textLength="5.40" lengthAdjust="spacingAndGlyphs">C</text>
<text x="383.55" y="11.9" font-size="8.4" fill="#449782" font-weight="normal" textLength="33.50" lengthAdjust="spacingAndGlyphs">154.638</text>
<text x="421.05" y="11.9" font-size="8.4" fill="#449782" font-weight="normal" textLength="28.05" lengthAdjust="spacingAndGlyphs">+4.415</text>
<text x="451.55" y="11.9" font-size="8.4" fill="#449782" font-weight="normal" textLength="36.60" lengthAdjust="spacingAndGlyphs">(+2.94%)</text>
<rect x="3.5" y="19.5" width="43" height="14.7" rx="2.5" fill="#fff" stroke="#f7a1a8" stroke-width="1"/>
<text x="8.55" y="29.6" font-size="8.4" fill="#df484c" font-weight="normal" textLength="33.00" lengthAdjust="spacingAndGlyphs">155.720</text>
<text x="51.65" y="29.6" font-size="8.4" fill="#141721" font-weight="normal" textLength="20.00" lengthAdjust="spacingAndGlyphs">0.002</text>
<rect x="77.7" y="19.5" width="42.8" height="14.7" rx="2.5" fill="#fff" stroke="#8aa7fb" stroke-width="1"/>
<text x="82.75" y="29.6" font-size="8.4" fill="#3861f6" font-weight="normal" textLength="33.10" lengthAdjust="spacingAndGlyphs">155.722</text>
<text x="3.55" y="47.8" font-size="8.4" fill="#141721" font-weight="normal" textLength="12.00" lengthAdjust="spacingAndGlyphs">Vol</text>
<text x="18.10" y="47.8" font-size="8.4" fill="#141721" font-weight="normal" textLength="1.80" lengthAdjust="spacingAndGlyphs">-</text>
<text x="22.35" y="47.8" font-size="8.4" fill="#141721" font-weight="normal" textLength="16.70" lengthAdjust="spacingAndGlyphs">SOL</text>
<text x="44.15" y="47.8" font-size="8.4" fill="#52a49a" font-weight="normal" textLength="16.70" lengthAdjust="spacingAndGlyphs">78.4</text>
<text x="63.35" y="47.8" font-size="8.4" fill="#52a49a" font-weight="normal" textLength="5.40" lengthAdjust="spacingAndGlyphs">K</text>
<text x="3.75" y="63.3" font-size="8.4" fill="#141721" font-weight="normal" textLength="44.40" lengthAdjust="spacingAndGlyphs">MA50&amp;200</text>
<text x="50.95" y="63.3" font-size="8.4" fill="#797b85" font-weight="normal" textLength="9.60" lengthAdjust="spacingAndGlyphs">50</text>
<text x="63.55" y="63.3" font-size="8.4" fill="#797b85" font-weight="normal" textLength="20.60" lengthAdjust="spacingAndGlyphs">close</text>
<text x="86.65" y="63.3" font-size="8.4" fill="#797b85" font-weight="normal" textLength="15.20" lengthAdjust="spacingAndGlyphs">200</text>
<text x="103.95" y="63.3" font-size="8.4" fill="#797b85" font-weight="normal" textLength="20.60" lengthAdjust="spacingAndGlyphs">close</text>
<text x="130.55" y="63.3" font-size="8.4" fill="#2e6de0" font-weight="normal" textLength="32.30" lengthAdjust="spacingAndGlyphs">106.801</text>
<text x="167.85" y="63.3" font-size="8.4" fill="#5ad2f5" font-weight="normal" textLength="33.50" lengthAdjust="spacingAndGlyphs">162.420</text>
<rect x="4" y="69.5" width="17.5" height="12.3" rx="2" fill="#fff" stroke="#e0e3eb" stroke-width="0.9"/>
<path d="M10.6 76.6l2.1-2.1l2.1 2.1" stroke="#141721" stroke-width="1.1" fill="none"/>
<text x="3.55" y="370.4" font-size="8.4" fill="#141721" font-weight="normal" textLength="24.60" lengthAdjust="spacingAndGlyphs">MACD</text>
<text x="30.95" y="370.4" font-size="8.4" fill="#797b85" font-weight="normal" textLength="45.30" lengthAdjust="spacingAndGlyphs">12 26 close</text>
<text x="81.35" y="370.4" font-size="8.4" fill="#52a49a" font-weight="normal" textLength="23.60" lengthAdjust="spacingAndGlyphs">2.506</text>
<text x="108.65" y="370.4" font-size="8.4" fill="#3861f6" font-weight="normal" textLength="28.80" lengthAdjust="spacingAndGlyphs">−3.088</text>
<text x="141.15" y="370.4" font-size="8.4" fill="#ed762f" font-weight="normal" textLength="28.30" lengthAdjust="spacingAndGlyphs">−5.594</text>
<path d="M5.4 517.1h9.1v9.4h-4.3v-5.8h-4.8z" fill="#141721"/>
<circle cx="16.3" cy="518.9" r="1.5" fill="#141721"/>
<path d="M19.6 517.1h4.6l-3.4 9.4h-4.6z" fill="#141721"/>
<text x="29.00" y="526.5" font-size="12.6" fill="#141721" font-weight="bold" textLength="77.80" lengthAdjust="spacingAndGlyphs">TradingView</text>
</svg></body></html>
